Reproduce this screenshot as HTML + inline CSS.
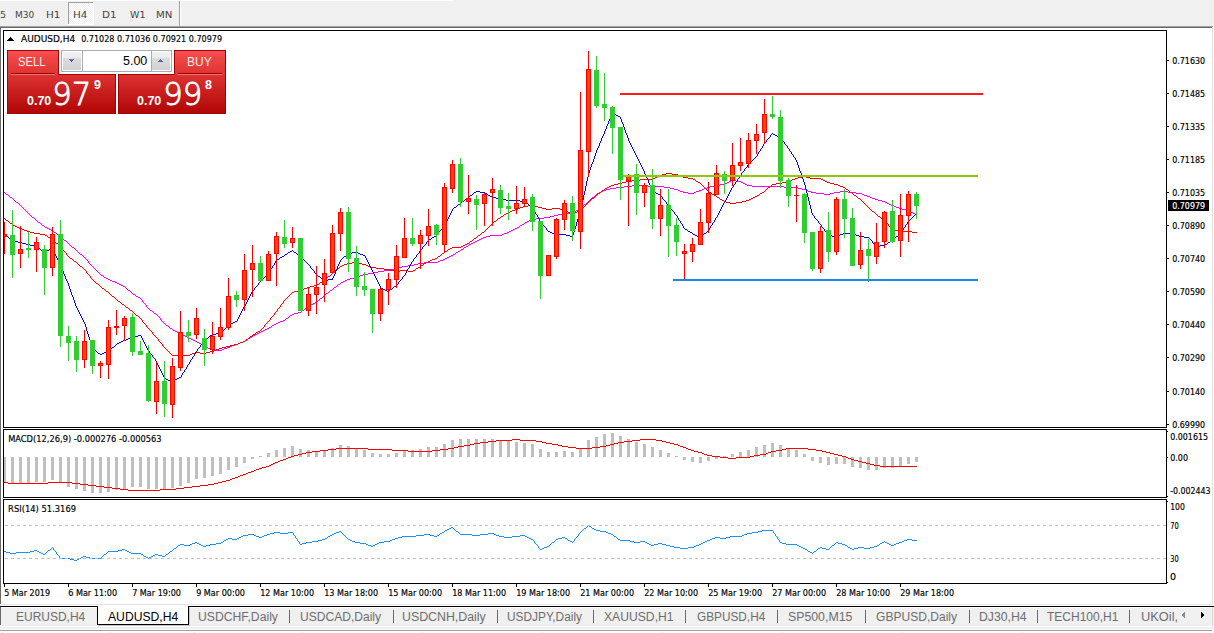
<!DOCTYPE html>
<html><head><meta charset="utf-8"><title>AUDUSD,H4</title>
<style>
html,body{margin:0;padding:0;width:1214px;height:633px;overflow:hidden;background:#f0f0f0}
svg{display:block}
text{white-space:pre}
</style></head><body>
<svg width="1214" height="633" viewBox="0 0 1214 633" shape-rendering="crispEdges">
<defs>
<clipPath id="cmain"><rect x="4" y="31" width="1162" height="396"/></clipPath>
<clipPath id="cmacd"><rect x="4" y="430" width="1162" height="67"/></clipPath>
<clipPath id="crsi"><rect x="4" y="500" width="1162" height="83"/></clipPath>
<pattern id="dith" width="2" height="2" patternUnits="userSpaceOnUse"><rect width="2" height="2" fill="#f0f0f0"/><rect width="1" height="1" fill="#fff"/><rect x="1" y="1" width="1" height="1" fill="#fff"/></pattern>
<linearGradient id="gtop" x1="0" y1="0" x2="0" y2="1"><stop offset="0" stop-color="#f64e4e"/><stop offset="1" stop-color="#de3434"/></linearGradient>
<linearGradient id="gbot" x1="0" y1="0" x2="0" y2="1"><stop offset="0" stop-color="#dc3232"/><stop offset="1" stop-color="#b00606"/></linearGradient>
<linearGradient id="gbtn1" x1="0" y1="0" x2="0" y2="1"><stop offset="0" stop-color="#f2f2f2"/><stop offset="1" stop-color="#ebebeb"/></linearGradient>
<linearGradient id="gbtn" x1="0" y1="0" x2="0" y2="1"><stop offset="0" stop-color="#dcdcdc"/><stop offset="1" stop-color="#d2d2d2"/></linearGradient>
</defs>
<rect x="0" y="0" width="1214" height="633" fill="#f0f0f0"/>
<rect x="0" y="0" width="453" height="1" fill="#ffffff"/>
<rect x="69" y="3" width="24" height="21" fill="url(#dith)"/>
<rect x="68" y="2" width="25" height="1" fill="#a0a0a0"/>
<rect x="68" y="2" width="1" height="22" fill="#a0a0a0"/>
<rect x="93" y="2" width="1" height="23" fill="#ffffff"/>
<rect x="68" y="24" width="26" height="1" fill="#ffffff"/>
<rect x="179" y="1" width="1" height="25" fill="#a0a0a0"/>
<rect x="180" y="1" width="1" height="25" fill="#ffffff"/>
<rect x="0" y="26" width="1213" height="1" fill="#a0a0a0"/>
<rect x="0" y="27" width="1212" height="1" fill="#696969"/>
<rect x="1" y="28" width="1211" height="576" fill="#ffffff"/>
<rect x="0" y="27" width="1" height="577" fill="#696969"/>
<rect x="1212" y="27" width="1" height="578" fill="#e3e3e3"/>
<rect x="1213" y="26" width="1" height="580" fill="#ffffff"/>
<rect x="1" y="604" width="1212" height="1" fill="#e3e3e3"/>
<rect x="0" y="605" width="1214" height="1" fill="#ffffff"/>
<rect x="3" y="30" width="1164" height="1" fill="#000"/>
<rect x="3" y="427" width="1164" height="1" fill="#000"/>
<rect x="3" y="30" width="1" height="398" fill="#000"/>
<rect x="1166" y="30" width="1" height="398" fill="#000"/>
<rect x="3" y="429" width="1164" height="1" fill="#000"/>
<rect x="3" y="497" width="1164" height="1" fill="#000"/>
<rect x="3" y="429" width="1" height="69" fill="#000"/>
<rect x="1166" y="429" width="1" height="69" fill="#000"/>
<rect x="3" y="499" width="1164" height="1" fill="#000"/>
<rect x="3" y="583" width="1164" height="1" fill="#000"/>
<rect x="3" y="499" width="1" height="85" fill="#000"/>
<rect x="1166" y="499" width="1" height="85" fill="#000"/>
<rect x="1167" y="60" width="2" height="1" fill="#000"/>
<rect x="1167" y="93" width="2" height="1" fill="#000"/>
<rect x="1167" y="126" width="2" height="1" fill="#000"/>
<rect x="1167" y="159" width="2" height="1" fill="#000"/>
<rect x="1167" y="192" width="2" height="1" fill="#000"/>
<rect x="1167" y="225" width="2" height="1" fill="#000"/>
<rect x="1167" y="258" width="2" height="1" fill="#000"/>
<rect x="1167" y="291" width="2" height="1" fill="#000"/>
<rect x="1167" y="324" width="2" height="1" fill="#000"/>
<rect x="1167" y="357" width="2" height="1" fill="#000"/>
<rect x="1167" y="391" width="2" height="1" fill="#000"/>
<rect x="1167" y="424" width="2" height="1" fill="#000"/>
<rect x="1167" y="431" width="1" height="1" fill="#000"/>
<rect x="1167" y="457" width="1" height="1" fill="#000"/>
<rect x="1167" y="496" width="1" height="1" fill="#000"/>
<rect x="1167" y="501" width="1" height="1" fill="#000"/>
<rect x="1167" y="582" width="1" height="1" fill="#000"/>
<rect x="4" y="584" width="1" height="3" fill="#000"/>
<rect x="68" y="584" width="1" height="3" fill="#000"/>
<rect x="132" y="584" width="1" height="3" fill="#000"/>
<rect x="196" y="584" width="1" height="3" fill="#000"/>
<rect x="260" y="584" width="1" height="3" fill="#000"/>
<rect x="324" y="584" width="1" height="3" fill="#000"/>
<rect x="388" y="584" width="1" height="3" fill="#000"/>
<rect x="452" y="584" width="1" height="3" fill="#000"/>
<rect x="516" y="584" width="1" height="3" fill="#000"/>
<rect x="580" y="584" width="1" height="3" fill="#000"/>
<rect x="644" y="584" width="1" height="3" fill="#000"/>
<rect x="708" y="584" width="1" height="3" fill="#000"/>
<rect x="772" y="584" width="1" height="3" fill="#000"/>
<rect x="836" y="584" width="1" height="3" fill="#000"/>
<rect x="900" y="584" width="1" height="3" fill="#000"/>
<path d="M731 180h5v1h-5zM729 181h2v1h-2zM736 181h5v1h-5zM727 182h2v1h-2zM741 182h2v1h-2zM725 183h2v1h-2zM743 183h2v1h-2zM720 184h5v1h-5zM745 184h2v1h-2zM632 185h16v1h-16zM714 185h6v1h-6zM747 185h5v1h-5zM624 186h8v1h-8zM648 186h16v1h-16zM710 186h4v1h-4zM752 186h32v1h-32zM616 187h8v1h-8zM664 187h6v1h-6zM707 187h3v1h-3zM784 187h14v1h-14zM610 188h6v1h-6zM670 188h4v1h-4zM704 188h3v1h-3zM798 188h4v1h-4zM606 189h4v1h-4zM674 189h4v1h-4zM702 189h2v1h-2zM802 189h4v1h-4zM603 190h3v1h-3zM678 190h2v1h-2zM699 190h3v1h-3zM806 190h2v1h-2zM601 191h2v1h-2zM680 191h3v1h-3zM696 191h3v1h-3zM808 191h3v1h-3zM840 191h8v1h-8zM4 192h1v1h-1zM599 192h2v1h-2zM683 192h5v1h-5zM694 192h2v1h-2zM811 192h5v1h-5zM834 192h6v1h-6zM848 192h8v1h-8zM5 193h1v1h-1zM597 193h2v1h-2zM688 193h6v1h-6zM816 193h8v1h-8zM830 193h4v1h-4zM856 193h6v1h-6zM6 194h2v1h-2zM596 194h1v1h-1zM824 194h6v1h-6zM862 194h2v1h-2zM8 195h1v1h-1zM595 195h1v1h-1zM864 195h3v1h-3zM9 196h1v1h-1zM594 196h1v1h-1zM867 196h3v1h-3zM10 197h2v1h-2zM592 197h2v1h-2zM870 197h2v1h-2zM12 198h1v1h-1zM591 198h1v1h-1zM872 198h3v1h-3zM13 199h1v1h-1zM590 199h1v1h-1zM875 199h3v1h-3zM14 200h1v1h-1zM589 200h1v1h-1zM878 200h4v1h-4zM15 201h1v1h-1zM588 201h1v1h-1zM882 201h3v1h-3zM16 202h2v1h-2zM587 202h1v1h-1zM885 202h2v1h-2zM18 203h1v1h-1zM586 203h1v1h-1zM887 203h2v1h-2zM19 204h1v1h-1zM584 204h2v1h-2zM889 204h2v1h-2zM20 205h1v1h-1zM583 205h1v1h-1zM891 205h3v1h-3zM21 206h1v1h-1zM582 206h1v1h-1zM894 206h2v1h-2zM22 207h1v1h-1zM581 207h1v1h-1zM896 207h3v1h-3zM23 208h1v1h-1zM580 208h1v1h-1zM899 208h3v1h-3zM24 209h1v1h-1zM578 209h2v1h-2zM902 209h4v1h-4zM25 210h1v1h-1zM576 210h2v1h-2zM906 210h3v1h-3zM26 211h1v1h-1zM575 211h1v1h-1zM909 211h2v1h-2zM27 212h1v1h-1zM573 212h2v1h-2zM911 212h2v1h-2zM28 213h1v1h-1zM562 213h11v1h-11zM913 213h2v1h-2zM29 214h1v1h-1zM558 214h4v1h-4zM915 214h2v1h-2zM30 215h1v1h-1zM554 215h4v1h-4zM31 216h1v1h-1zM550 216h4v1h-4zM32 217h2v1h-2zM544 217h6v1h-6zM34 218h1v1h-1zM536 218h8v1h-8zM35 219h1v1h-1zM531 219h5v1h-5zM36 220h1v1h-1zM529 220h2v1h-2zM37 221h1v1h-1zM527 221h2v1h-2zM38 222h2v1h-2zM525 222h2v1h-2zM40 223h1v1h-1zM524 223h1v1h-1zM41 224h1v1h-1zM522 224h2v1h-2zM42 225h2v1h-2zM520 225h2v1h-2zM44 226h1v1h-1zM519 226h1v1h-1zM45 227h2v1h-2zM517 227h2v1h-2zM47 228h2v1h-2zM515 228h2v1h-2zM49 229h2v1h-2zM513 229h2v1h-2zM51 230h2v1h-2zM511 230h2v1h-2zM53 231h1v1h-1zM509 231h2v1h-2zM54 232h2v1h-2zM507 232h2v1h-2zM56 233h1v1h-1zM504 233h3v1h-3zM57 234h1v1h-1zM502 234h2v1h-2zM58 235h2v1h-2zM490 235h12v1h-12zM60 236h1v1h-1zM486 236h4v1h-4zM61 237h1v1h-1zM483 237h3v1h-3zM62 238h1v1h-1zM481 238h2v1h-2zM63 239h1v1h-1zM479 239h2v1h-2zM64 240h2v1h-2zM477 240h2v1h-2zM66 241h1v1h-1zM475 241h2v1h-2zM67 242h1v1h-1zM473 242h2v1h-2zM68 243h1v1h-1zM471 243h2v1h-2zM69 244h1v1h-1zM469 244h2v1h-2zM70 245h1v1h-1zM468 245h1v1h-1zM71 246h1v1h-1zM466 246h2v1h-2zM72 247h2v1h-2zM464 247h2v1h-2zM74 248h1v1h-1zM463 248h1v1h-1zM75 249h1v1h-1zM461 249h2v1h-2zM76 250h1v1h-1zM460 250h1v1h-1zM77 251h1v1h-1zM458 251h2v1h-2zM78 252h1v1h-1zM456 252h2v1h-2zM79 253h1v1h-1zM455 253h1v1h-1zM80 254h2v1h-2zM453 254h2v1h-2zM82 255h1v1h-1zM451 255h2v1h-2zM83 256h1v1h-1zM449 256h2v1h-2zM84 257h1v1h-1zM447 257h2v1h-2zM85 258h1v1h-1zM445 258h2v1h-2zM86 259h1v1h-1zM443 259h2v1h-2zM87 260h1v1h-1zM440 260h3v1h-3zM88 261h1v1h-1zM438 261h2v1h-2zM88 262h1v1h-1zM424 262h14v1h-14zM89 263h1v1h-1zM418 263h6v1h-6zM90 264h1v1h-1zM414 264h4v1h-4zM91 265h1v1h-1zM408 265h6v1h-6zM92 266h1v1h-1zM402 266h6v1h-6zM93 267h1v1h-1zM398 267h4v1h-4zM94 268h1v1h-1zM394 268h4v1h-4zM95 269h1v1h-1zM390 269h4v1h-4zM96 270h1v1h-1zM384 270h6v1h-6zM97 271h1v1h-1zM378 271h6v1h-6zM98 272h1v1h-1zM374 272h4v1h-4zM99 273h1v1h-1zM368 273h6v1h-6zM100 274h1v1h-1zM363 274h5v1h-5zM101 275h2v1h-2zM360 275h3v1h-3zM103 276h1v1h-1zM358 276h2v1h-2zM104 277h2v1h-2zM354 277h4v1h-4zM106 278h2v1h-2zM350 278h4v1h-4zM108 279h2v1h-2zM347 279h3v1h-3zM110 280h2v1h-2zM345 280h2v1h-2zM112 281h3v1h-3zM343 281h2v1h-2zM115 282h2v1h-2zM341 282h2v1h-2zM117 283h2v1h-2zM340 283h1v1h-1zM119 284h2v1h-2zM338 284h2v1h-2zM121 285h2v1h-2zM337 285h1v1h-1zM123 286h2v1h-2zM336 286h1v1h-1zM125 287h1v1h-1zM334 287h2v1h-2zM126 288h1v1h-1zM333 288h1v1h-1zM127 289h1v1h-1zM332 289h1v1h-1zM128 290h2v1h-2zM330 290h2v1h-2zM130 291h1v1h-1zM329 291h1v1h-1zM131 292h1v1h-1zM328 292h1v1h-1zM132 293h1v1h-1zM326 293h2v1h-2zM133 294h2v1h-2zM325 294h1v1h-1zM135 295h1v1h-1zM324 295h1v1h-1zM136 296h2v1h-2zM323 296h1v1h-1zM138 297h2v1h-2zM322 297h1v1h-1zM140 298h1v1h-1zM320 298h2v1h-2zM141 299h1v1h-1zM319 299h1v1h-1zM142 300h1v1h-1zM318 300h1v1h-1zM142 301h1v1h-1zM317 301h1v1h-1zM143 302h1v1h-1zM315 302h2v1h-2zM144 303h1v1h-1zM313 303h2v1h-2zM145 304h1v1h-1zM311 304h2v1h-2zM146 305h1v1h-1zM309 305h2v1h-2zM146 306h1v1h-1zM308 306h1v1h-1zM147 307h1v1h-1zM306 307h2v1h-2zM148 308h1v1h-1zM305 308h1v1h-1zM149 309h1v1h-1zM304 309h1v1h-1zM150 310h2v1h-2zM302 310h2v1h-2zM152 311h1v1h-1zM301 311h1v1h-1zM153 312h1v1h-1zM298 312h3v1h-3zM154 313h2v1h-2zM294 313h4v1h-4zM156 314h1v1h-1zM292 314h2v1h-2zM157 315h1v1h-1zM290 315h2v1h-2zM158 316h1v1h-1zM289 316h1v1h-1zM159 317h1v1h-1zM288 317h1v1h-1zM160 318h1v1h-1zM286 318h2v1h-2zM160 319h1v1h-1zM285 319h1v1h-1zM161 320h1v1h-1zM283 320h2v1h-2zM162 321h1v1h-1zM280 321h3v1h-3zM163 322h1v1h-1zM278 322h2v1h-2zM164 323h1v1h-1zM276 323h2v1h-2zM165 324h1v1h-1zM274 324h2v1h-2zM166 325h2v1h-2zM272 325h2v1h-2zM168 326h1v1h-1zM271 326h1v1h-1zM169 327h1v1h-1zM269 327h2v1h-2zM170 328h2v1h-2zM267 328h2v1h-2zM172 329h1v1h-1zM265 329h2v1h-2zM173 330h2v1h-2zM263 330h2v1h-2zM175 331h2v1h-2zM261 331h2v1h-2zM177 332h2v1h-2zM259 332h2v1h-2zM179 333h2v1h-2zM257 333h2v1h-2zM181 334h2v1h-2zM255 334h2v1h-2zM183 335h2v1h-2zM253 335h2v1h-2zM185 336h2v1h-2zM252 336h1v1h-1zM187 337h2v1h-2zM250 337h2v1h-2zM189 338h2v1h-2zM248 338h2v1h-2zM191 339h2v1h-2zM247 339h1v1h-1zM193 340h2v1h-2zM245 340h2v1h-2zM195 341h2v1h-2zM243 341h2v1h-2zM197 342h2v1h-2zM240 342h3v1h-3zM199 343h2v1h-2zM238 343h2v1h-2zM201 344h2v1h-2zM235 344h3v1h-3zM203 345h2v1h-2zM232 345h3v1h-3zM205 346h2v1h-2zM230 346h2v1h-2zM207 347h1v1h-1zM227 347h3v1h-3zM208 348h2v1h-2zM224 348h3v1h-3zM210 349h2v1h-2zM222 349h2v1h-2zM212 350h10v1h-10z" fill="#ff00ff"/>
<path d="M666 173h6v1h-6zM662 174h4v1h-4zM672 174h6v1h-6zM659 175h3v1h-3zM678 175h2v1h-2zM657 176h2v1h-2zM680 176h3v1h-3zM802 176h4v1h-4zM655 177h2v1h-2zM683 177h5v1h-5zM798 177h4v1h-4zM806 177h4v1h-4zM653 178h2v1h-2zM688 178h5v1h-5zM795 178h3v1h-3zM810 178h11v1h-11zM640 179h13v1h-13zM693 179h2v1h-2zM792 179h3v1h-3zM821 179h2v1h-2zM632 180h8v1h-8zM695 180h1v1h-1zM790 180h2v1h-2zM823 180h2v1h-2zM626 181h6v1h-6zM696 181h2v1h-2zM786 181h4v1h-4zM825 181h2v1h-2zM622 182h4v1h-4zM698 182h2v1h-2zM782 182h4v1h-4zM827 182h3v1h-3zM618 183h4v1h-4zM700 183h1v1h-1zM776 183h6v1h-6zM830 183h4v1h-4zM614 184h4v1h-4zM701 184h1v1h-1zM772 184h4v1h-4zM834 184h4v1h-4zM611 185h3v1h-3zM702 185h1v1h-1zM771 185h1v1h-1zM838 185h2v1h-2zM609 186h2v1h-2zM703 186h1v1h-1zM770 186h1v1h-1zM840 186h3v1h-3zM607 187h2v1h-2zM704 187h1v1h-1zM768 187h2v1h-2zM843 187h2v1h-2zM605 188h2v1h-2zM705 188h1v1h-1zM767 188h1v1h-1zM845 188h1v1h-1zM604 189h1v1h-1zM706 189h1v1h-1zM766 189h1v1h-1zM846 189h2v1h-2zM602 190h2v1h-2zM707 190h1v1h-1zM765 190h1v1h-1zM848 190h1v1h-1zM601 191h1v1h-1zM708 191h1v1h-1zM764 191h1v1h-1zM849 191h1v1h-1zM600 192h1v1h-1zM709 192h2v1h-2zM762 192h2v1h-2zM850 192h2v1h-2zM598 193h2v1h-2zM711 193h1v1h-1zM760 193h2v1h-2zM852 193h1v1h-1zM597 194h1v1h-1zM712 194h2v1h-2zM759 194h1v1h-1zM853 194h1v1h-1zM596 195h1v1h-1zM714 195h2v1h-2zM757 195h2v1h-2zM854 195h2v1h-2zM595 196h1v1h-1zM716 196h1v1h-1zM755 196h2v1h-2zM856 196h1v1h-1zM594 197h1v1h-1zM717 197h2v1h-2zM753 197h2v1h-2zM857 197h1v1h-1zM592 198h2v1h-2zM719 198h1v1h-1zM751 198h2v1h-2zM858 198h2v1h-2zM591 199h1v1h-1zM720 199h2v1h-2zM749 199h2v1h-2zM860 199h1v1h-1zM590 200h1v1h-1zM722 200h2v1h-2zM746 200h3v1h-3zM861 200h1v1h-1zM589 201h1v1h-1zM724 201h2v1h-2zM742 201h4v1h-4zM862 201h1v1h-1zM588 202h1v1h-1zM726 202h4v1h-4zM736 202h6v1h-6zM863 202h1v1h-1zM587 203h1v1h-1zM730 203h6v1h-6zM864 203h1v1h-1zM586 204h1v1h-1zM865 204h1v1h-1zM528 205h6v1h-6zM585 205h1v1h-1zM866 205h1v1h-1zM523 206h5v1h-5zM534 206h4v1h-4zM584 206h1v1h-1zM867 206h1v1h-1zM520 207h3v1h-3zM538 207h4v1h-4zM583 207h1v1h-1zM868 207h1v1h-1zM518 208h2v1h-2zM542 208h4v1h-4zM552 208h8v1h-8zM582 208h1v1h-1zM869 208h1v1h-1zM515 209h3v1h-3zM546 209h6v1h-6zM560 209h5v1h-5zM581 209h1v1h-1zM870 209h1v1h-1zM512 210h3v1h-3zM565 210h2v1h-2zM579 210h2v1h-2zM871 210h1v1h-1zM510 211h2v1h-2zM567 211h1v1h-1zM577 211h2v1h-2zM872 211h2v1h-2zM508 212h2v1h-2zM568 212h2v1h-2zM575 212h2v1h-2zM874 212h1v1h-1zM506 213h2v1h-2zM570 213h2v1h-2zM573 213h2v1h-2zM875 213h1v1h-1zM504 214h2v1h-2zM572 214h1v1h-1zM876 214h1v1h-1zM503 215h1v1h-1zM877 215h1v1h-1zM501 216h2v1h-2zM878 216h2v1h-2zM500 217h1v1h-1zM880 217h1v1h-1zM4 218h1v1h-1zM498 218h2v1h-2zM881 218h1v1h-1zM5 219h1v1h-1zM497 219h1v1h-1zM882 219h2v1h-2zM6 220h2v1h-2zM496 220h1v1h-1zM884 220h1v1h-1zM8 221h1v1h-1zM494 221h2v1h-2zM885 221h1v1h-1zM9 222h1v1h-1zM493 222h1v1h-1zM886 222h1v1h-1zM10 223h2v1h-2zM492 223h1v1h-1zM887 223h1v1h-1zM12 224h1v1h-1zM491 224h1v1h-1zM888 224h1v1h-1zM13 225h2v1h-2zM490 225h1v1h-1zM888 225h1v1h-1zM15 226h2v1h-2zM489 226h1v1h-1zM889 226h1v1h-1zM17 227h2v1h-2zM488 227h1v1h-1zM890 227h1v1h-1zM19 228h3v1h-3zM487 228h1v1h-1zM891 228h1v1h-1zM22 229h2v1h-2zM486 229h1v1h-1zM892 229h2v1h-2zM24 230h3v1h-3zM485 230h1v1h-1zM894 230h4v1h-4zM27 231h3v1h-3zM484 231h1v1h-1zM898 231h14v1h-14zM30 232h4v1h-4zM482 232h2v1h-2zM912 232h5v1h-5zM34 233h6v1h-6zM481 233h1v1h-1zM40 234h5v1h-5zM480 234h1v1h-1zM45 235h2v1h-2zM478 235h2v1h-2zM47 236h1v1h-1zM477 236h1v1h-1zM48 237h2v1h-2zM476 237h1v1h-1zM50 238h2v1h-2zM474 238h2v1h-2zM52 239h1v1h-1zM473 239h1v1h-1zM53 240h1v1h-1zM472 240h1v1h-1zM54 241h1v1h-1zM470 241h2v1h-2zM55 242h1v1h-1zM469 242h1v1h-1zM56 243h2v1h-2zM467 243h2v1h-2zM58 244h1v1h-1zM465 244h2v1h-2zM59 245h1v1h-1zM463 245h2v1h-2zM60 246h1v1h-1zM461 246h2v1h-2zM61 247h1v1h-1zM452 247h9v1h-9zM62 248h1v1h-1zM450 248h2v1h-2zM62 249h1v1h-1zM448 249h2v1h-2zM63 250h1v1h-1zM447 250h1v1h-1zM64 251h1v1h-1zM445 251h2v1h-2zM65 252h1v1h-1zM444 252h1v1h-1zM66 253h1v1h-1zM442 253h2v1h-2zM66 254h1v1h-1zM441 254h1v1h-1zM67 255h1v1h-1zM440 255h1v1h-1zM68 256h1v1h-1zM438 256h2v1h-2zM69 257h1v1h-1zM437 257h1v1h-1zM70 258h2v1h-2zM435 258h2v1h-2zM72 259h1v1h-1zM432 259h3v1h-3zM73 260h1v1h-1zM430 260h2v1h-2zM74 261h2v1h-2zM428 261h2v1h-2zM76 262h1v1h-1zM352 262h6v1h-6zM426 262h2v1h-2zM77 263h1v1h-1zM347 263h5v1h-5zM358 263h4v1h-4zM424 263h2v1h-2zM78 264h1v1h-1zM344 264h3v1h-3zM362 264h4v1h-4zM423 264h1v1h-1zM79 265h1v1h-1zM342 265h2v1h-2zM366 265h2v1h-2zM421 265h2v1h-2zM80 266h2v1h-2zM340 266h2v1h-2zM368 266h3v1h-3zM420 266h1v1h-1zM82 267h1v1h-1zM339 267h1v1h-1zM371 267h5v1h-5zM418 267h2v1h-2zM83 268h1v1h-1zM338 268h1v1h-1zM376 268h8v1h-8zM416 268h2v1h-2zM84 269h1v1h-1zM336 269h2v1h-2zM384 269h6v1h-6zM415 269h1v1h-1zM85 270h1v1h-1zM335 270h1v1h-1zM390 270h4v1h-4zM400 270h8v1h-8zM413 270h2v1h-2zM86 271h1v1h-1zM334 271h1v1h-1zM394 271h6v1h-6zM408 271h5v1h-5zM86 272h1v1h-1zM333 272h1v1h-1zM87 273h1v1h-1zM332 273h1v1h-1zM88 274h1v1h-1zM331 274h1v1h-1zM89 275h1v1h-1zM330 275h1v1h-1zM90 276h1v1h-1zM328 276h2v1h-2zM90 277h1v1h-1zM327 277h1v1h-1zM91 278h1v1h-1zM326 278h1v1h-1zM92 279h1v1h-1zM325 279h1v1h-1zM93 280h1v1h-1zM324 280h1v1h-1zM94 281h1v1h-1zM322 281h2v1h-2zM95 282h1v1h-1zM320 282h2v1h-2zM96 283h2v1h-2zM319 283h1v1h-1zM98 284h1v1h-1zM317 284h2v1h-2zM99 285h1v1h-1zM314 285h3v1h-3zM100 286h1v1h-1zM310 286h4v1h-4zM101 287h1v1h-1zM307 287h3v1h-3zM102 288h2v1h-2zM304 288h3v1h-3zM104 289h1v1h-1zM302 289h2v1h-2zM105 290h1v1h-1zM298 290h4v1h-4zM106 291h2v1h-2zM294 291h4v1h-4zM108 292h1v1h-1zM292 292h2v1h-2zM109 293h1v1h-1zM291 293h1v1h-1zM110 294h1v1h-1zM290 294h1v1h-1zM111 295h1v1h-1zM289 295h1v1h-1zM112 296h2v1h-2zM288 296h1v1h-1zM114 297h1v1h-1zM287 297h1v1h-1zM115 298h1v1h-1zM286 298h1v1h-1zM116 299h1v1h-1zM285 299h1v1h-1zM117 300h1v1h-1zM284 300h1v1h-1zM118 301h2v1h-2zM283 301h1v1h-1zM120 302h1v1h-1zM283 302h1v1h-1zM121 303h1v1h-1zM282 303h1v1h-1zM122 304h2v1h-2zM281 304h1v1h-1zM124 305h1v1h-1zM280 305h1v1h-1zM125 306h1v1h-1zM280 306h1v1h-1zM126 307h2v1h-2zM279 307h1v1h-1zM128 308h1v1h-1zM278 308h1v1h-1zM129 309h1v1h-1zM277 309h1v1h-1zM130 310h2v1h-2zM277 310h1v1h-1zM132 311h1v1h-1zM276 311h1v1h-1zM133 312h1v1h-1zM275 312h1v1h-1zM134 313h1v1h-1zM274 313h1v1h-1zM135 314h1v1h-1zM274 314h1v1h-1zM136 315h2v1h-2zM273 315h1v1h-1zM138 316h1v1h-1zM272 316h1v1h-1zM139 317h1v1h-1zM271 317h1v1h-1zM140 318h1v1h-1zM270 318h1v1h-1zM141 319h1v1h-1zM270 319h1v1h-1zM142 320h1v1h-1zM269 320h1v1h-1zM142 321h1v1h-1zM268 321h1v1h-1zM143 322h1v1h-1zM267 322h1v1h-1zM144 323h1v1h-1zM266 323h1v1h-1zM145 324h1v1h-1zM265 324h1v1h-1zM146 325h1v1h-1zM264 325h1v1h-1zM146 326h1v1h-1zM264 326h1v1h-1zM147 327h1v1h-1zM263 327h1v1h-1zM148 328h1v1h-1zM262 328h1v1h-1zM149 329h1v1h-1zM261 329h1v1h-1zM150 330h1v1h-1zM260 330h1v1h-1zM151 331h1v1h-1zM258 331h2v1h-2zM152 332h1v1h-1zM256 332h2v1h-2zM152 333h1v1h-1zM255 333h1v1h-1zM153 334h1v1h-1zM253 334h2v1h-2zM154 335h1v1h-1zM252 335h1v1h-1zM155 336h1v1h-1zM250 336h2v1h-2zM156 337h1v1h-1zM249 337h1v1h-1zM157 338h1v1h-1zM248 338h1v1h-1zM158 339h1v1h-1zM246 339h2v1h-2zM158 340h1v1h-1zM245 340h1v1h-1zM159 341h1v1h-1zM243 341h2v1h-2zM160 342h1v1h-1zM240 342h3v1h-3zM161 343h1v1h-1zM238 343h2v1h-2zM162 344h1v1h-1zM234 344h4v1h-4zM162 345h1v1h-1zM230 345h4v1h-4zM163 346h1v1h-1zM226 346h4v1h-4zM164 347h1v1h-1zM222 347h4v1h-4zM165 348h1v1h-1zM219 348h3v1h-3zM166 349h1v1h-1zM216 349h3v1h-3zM167 350h1v1h-1zM214 350h2v1h-2zM168 351h1v1h-1zM210 351h4v1h-4zM169 352h1v1h-1zM195 352h5v1h-5zM206 352h4v1h-4zM170 353h1v1h-1zM192 353h3v1h-3zM200 353h6v1h-6zM171 354h1v1h-1zM190 354h2v1h-2zM172 355h18v1h-18z" fill="#ff0000"/>
<path d="M612 112h1v1h-1zM612 113h3v1h-3zM611 114h1v1h-1zM615 114h1v1h-1zM611 115h1v1h-1zM616 115h2v1h-2zM610 116h1v1h-1zM618 116h2v1h-2zM610 117h1v1h-1zM620 117h1v1h-1zM610 118h1v1h-1zM620 118h1v1h-1zM609 119h1v1h-1zM621 119h1v1h-1zM609 120h1v1h-1zM621 120h1v1h-1zM608 121h1v1h-1zM621 121h1v1h-1zM608 122h1v1h-1zM622 122h1v1h-1zM608 123h1v1h-1zM622 123h1v1h-1zM607 124h1v1h-1zM623 124h1v1h-1zM607 125h1v1h-1zM623 125h1v1h-1zM606 126h1v1h-1zM623 126h1v1h-1zM606 127h1v1h-1zM624 127h1v1h-1zM606 128h1v1h-1zM624 128h1v1h-1zM605 129h1v1h-1zM624 129h1v1h-1zM605 130h1v1h-1zM625 130h1v1h-1zM604 131h1v1h-1zM625 131h1v1h-1zM604 132h1v1h-1zM625 132h1v1h-1zM604 133h1v1h-1zM626 133h1v1h-1zM772 133h1v1h-1zM603 134h1v1h-1zM626 134h1v1h-1zM771 134h1v1h-1zM773 134h2v1h-2zM603 135h1v1h-1zM627 135h1v1h-1zM770 135h1v1h-1zM775 135h2v1h-2zM602 136h1v1h-1zM627 136h1v1h-1zM770 136h1v1h-1zM777 136h2v1h-2zM602 137h1v1h-1zM627 137h1v1h-1zM769 137h1v1h-1zM779 137h2v1h-2zM601 138h1v1h-1zM628 138h1v1h-1zM768 138h1v1h-1zM781 138h1v1h-1zM601 139h1v1h-1zM628 139h1v1h-1zM767 139h1v1h-1zM781 139h1v1h-1zM601 140h1v1h-1zM628 140h1v1h-1zM766 140h1v1h-1zM782 140h1v1h-1zM600 141h1v1h-1zM629 141h1v1h-1zM766 141h1v1h-1zM783 141h1v1h-1zM600 142h1v1h-1zM629 142h1v1h-1zM765 142h1v1h-1zM784 142h1v1h-1zM599 143h1v1h-1zM630 143h1v1h-1zM764 143h1v1h-1zM784 143h1v1h-1zM599 144h1v1h-1zM630 144h1v1h-1zM763 144h1v1h-1zM785 144h1v1h-1zM599 145h1v1h-1zM631 145h1v1h-1zM763 145h1v1h-1zM786 145h1v1h-1zM598 146h1v1h-1zM631 146h1v1h-1zM762 146h1v1h-1zM787 146h1v1h-1zM598 147h1v1h-1zM632 147h1v1h-1zM762 147h1v1h-1zM787 147h1v1h-1zM597 148h1v1h-1zM632 148h1v1h-1zM761 148h1v1h-1zM788 148h1v1h-1zM597 149h1v1h-1zM633 149h1v1h-1zM760 149h1v1h-1zM789 149h1v1h-1zM596 150h1v1h-1zM633 150h1v1h-1zM760 150h1v1h-1zM789 150h1v1h-1zM596 151h1v1h-1zM634 151h1v1h-1zM759 151h1v1h-1zM790 151h1v1h-1zM596 152h1v1h-1zM634 152h1v1h-1zM758 152h1v1h-1zM791 152h1v1h-1zM595 153h1v1h-1zM635 153h1v1h-1zM758 153h1v1h-1zM791 153h1v1h-1zM595 154h1v1h-1zM635 154h1v1h-1zM757 154h1v1h-1zM792 154h1v1h-1zM595 155h1v1h-1zM636 155h1v1h-1zM757 155h1v1h-1zM793 155h1v1h-1zM594 156h1v1h-1zM636 156h1v1h-1zM756 156h1v1h-1zM793 156h1v1h-1zM594 157h1v1h-1zM637 157h1v1h-1zM755 157h1v1h-1zM794 157h1v1h-1zM594 158h1v1h-1zM637 158h1v1h-1zM754 158h1v1h-1zM795 158h1v1h-1zM593 159h1v1h-1zM638 159h1v1h-1zM753 159h1v1h-1zM795 159h1v1h-1zM593 160h1v1h-1zM638 160h1v1h-1zM752 160h1v1h-1zM796 160h1v1h-1zM593 161h1v1h-1zM639 161h1v1h-1zM751 161h1v1h-1zM796 161h1v1h-1zM592 162h1v1h-1zM639 162h1v1h-1zM750 162h1v1h-1zM797 162h1v1h-1zM592 163h1v1h-1zM640 163h1v1h-1zM749 163h1v1h-1zM797 163h1v1h-1zM591 164h1v1h-1zM640 164h1v1h-1zM748 164h1v1h-1zM797 164h1v1h-1zM591 165h1v1h-1zM641 165h1v1h-1zM747 165h1v1h-1zM798 165h1v1h-1zM591 166h1v1h-1zM641 166h1v1h-1zM747 166h1v1h-1zM798 166h1v1h-1zM590 167h1v1h-1zM642 167h1v1h-1zM746 167h1v1h-1zM798 167h1v1h-1zM590 168h1v1h-1zM642 168h1v1h-1zM745 168h1v1h-1zM799 168h1v1h-1zM590 169h1v1h-1zM643 169h1v1h-1zM744 169h1v1h-1zM799 169h1v1h-1zM589 170h1v1h-1zM643 170h1v1h-1zM744 170h1v1h-1zM799 170h1v1h-1zM589 171h1v1h-1zM644 171h1v1h-1zM743 171h1v1h-1zM800 171h1v1h-1zM589 172h1v1h-1zM644 172h1v1h-1zM742 172h1v1h-1zM800 172h1v1h-1zM588 173h1v1h-1zM644 173h1v1h-1zM741 173h1v1h-1zM801 173h1v1h-1zM588 174h1v1h-1zM645 174h1v1h-1zM741 174h1v1h-1zM801 174h1v1h-1zM588 175h1v1h-1zM645 175h1v1h-1zM740 175h1v1h-1zM801 175h1v1h-1zM588 176h1v1h-1zM646 176h1v1h-1zM739 176h1v1h-1zM802 176h1v1h-1zM587 177h1v1h-1zM646 177h1v1h-1zM739 177h1v1h-1zM802 177h1v1h-1zM587 178h1v1h-1zM647 178h1v1h-1zM738 178h1v1h-1zM802 178h1v1h-1zM587 179h1v1h-1zM647 179h1v1h-1zM737 179h1v1h-1zM803 179h1v1h-1zM587 180h1v1h-1zM648 180h1v1h-1zM737 180h1v1h-1zM803 180h1v1h-1zM586 181h1v1h-1zM648 181h1v1h-1zM736 181h1v1h-1zM803 181h1v1h-1zM586 182h1v1h-1zM648 182h1v1h-1zM735 182h1v1h-1zM804 182h1v1h-1zM586 183h1v1h-1zM649 183h1v1h-1zM735 183h1v1h-1zM804 183h1v1h-1zM586 184h1v1h-1zM649 184h1v1h-1zM734 184h1v1h-1zM804 184h1v1h-1zM586 185h1v1h-1zM650 185h1v1h-1zM733 185h1v1h-1zM805 185h1v1h-1zM585 186h1v1h-1zM650 186h1v1h-1zM733 186h1v1h-1zM805 186h1v1h-1zM585 187h1v1h-1zM651 187h1v1h-1zM732 187h1v1h-1zM805 187h1v1h-1zM585 188h1v1h-1zM651 188h1v1h-1zM731 188h1v1h-1zM805 188h1v1h-1zM585 189h1v1h-1zM652 189h1v1h-1zM731 189h1v1h-1zM806 189h1v1h-1zM585 190h1v1h-1zM652 190h1v1h-1zM730 190h1v1h-1zM806 190h1v1h-1zM476 191h4v1h-4zM584 191h1v1h-1zM653 191h2v1h-2zM730 191h1v1h-1zM806 191h1v1h-1zM474 192h2v1h-2zM480 192h5v1h-5zM584 192h1v1h-1zM655 192h1v1h-1zM729 192h1v1h-1zM806 192h1v1h-1zM473 193h1v1h-1zM485 193h2v1h-2zM584 193h1v1h-1zM656 193h2v1h-2zM729 193h1v1h-1zM807 193h1v1h-1zM472 194h1v1h-1zM487 194h1v1h-1zM584 194h1v1h-1zM658 194h2v1h-2zM728 194h1v1h-1zM807 194h1v1h-1zM470 195h2v1h-2zM488 195h2v1h-2zM583 195h1v1h-1zM660 195h1v1h-1zM728 195h1v1h-1zM807 195h1v1h-1zM469 196h1v1h-1zM490 196h2v1h-2zM583 196h1v1h-1zM661 196h1v1h-1zM727 196h1v1h-1zM807 196h1v1h-1zM468 197h1v1h-1zM492 197h4v1h-4zM583 197h1v1h-1zM662 197h1v1h-1zM727 197h1v1h-1zM808 197h1v1h-1zM466 198h2v1h-2zM496 198h6v1h-6zM583 198h1v1h-1zM662 198h1v1h-1zM726 198h1v1h-1zM808 198h1v1h-1zM465 199h1v1h-1zM502 199h4v1h-4zM583 199h1v1h-1zM663 199h1v1h-1zM726 199h1v1h-1zM808 199h1v1h-1zM464 200h1v1h-1zM506 200h14v1h-14zM582 200h1v1h-1zM664 200h1v1h-1zM725 200h1v1h-1zM808 200h1v1h-1zM462 201h2v1h-2zM520 201h5v1h-5zM582 201h1v1h-1zM665 201h1v1h-1zM725 201h1v1h-1zM809 201h1v1h-1zM461 202h1v1h-1zM525 202h1v1h-1zM582 202h1v1h-1zM666 202h1v1h-1zM724 202h1v1h-1zM809 202h1v1h-1zM460 203h1v1h-1zM526 203h2v1h-2zM582 203h1v1h-1zM666 203h1v1h-1zM723 203h1v1h-1zM809 203h1v1h-1zM458 204h2v1h-2zM528 204h1v1h-1zM582 204h1v1h-1zM667 204h1v1h-1zM723 204h1v1h-1zM809 204h1v1h-1zM457 205h1v1h-1zM529 205h1v1h-1zM581 205h1v1h-1zM668 205h1v1h-1zM722 205h1v1h-1zM810 205h1v1h-1zM456 206h1v1h-1zM530 206h2v1h-2zM581 206h1v1h-1zM669 206h1v1h-1zM722 206h1v1h-1zM810 206h1v1h-1zM454 207h2v1h-2zM532 207h1v1h-1zM581 207h1v1h-1zM670 207h1v1h-1zM721 207h1v1h-1zM810 207h1v1h-1zM453 208h1v1h-1zM533 208h1v1h-1zM581 208h1v1h-1zM670 208h1v1h-1zM721 208h1v1h-1zM810 208h1v1h-1zM452 209h1v1h-1zM533 209h1v1h-1zM580 209h1v1h-1zM671 209h1v1h-1zM720 209h1v1h-1zM811 209h1v1h-1zM452 210h1v1h-1zM534 210h1v1h-1zM580 210h1v1h-1zM672 210h1v1h-1zM720 210h1v1h-1zM811 210h1v1h-1zM451 211h1v1h-1zM534 211h1v1h-1zM580 211h1v1h-1zM673 211h1v1h-1zM719 211h1v1h-1zM811 211h1v1h-1zM451 212h1v1h-1zM535 212h1v1h-1zM580 212h1v1h-1zM674 212h1v1h-1zM719 212h1v1h-1zM811 212h1v1h-1zM450 213h1v1h-1zM535 213h1v1h-1zM579 213h1v1h-1zM674 213h1v1h-1zM718 213h1v1h-1zM812 213h1v1h-1zM916 213h1v1h-1zM450 214h1v1h-1zM536 214h1v1h-1zM579 214h1v1h-1zM675 214h1v1h-1zM718 214h1v1h-1zM812 214h1v1h-1zM915 214h1v1h-1zM449 215h1v1h-1zM537 215h1v1h-1zM579 215h1v1h-1zM676 215h1v1h-1zM717 215h1v1h-1zM813 215h1v1h-1zM914 215h1v1h-1zM449 216h1v1h-1zM537 216h1v1h-1zM578 216h1v1h-1zM677 216h1v1h-1zM717 216h1v1h-1zM814 216h1v1h-1zM913 216h1v1h-1zM448 217h1v1h-1zM538 217h1v1h-1zM578 217h1v1h-1zM677 217h1v1h-1zM716 217h1v1h-1zM814 217h1v1h-1zM912 217h1v1h-1zM448 218h1v1h-1zM538 218h1v1h-1zM578 218h1v1h-1zM678 218h1v1h-1zM715 218h1v1h-1zM815 218h1v1h-1zM911 218h1v1h-1zM447 219h1v1h-1zM539 219h1v1h-1zM577 219h1v1h-1zM678 219h1v1h-1zM715 219h1v1h-1zM816 219h1v1h-1zM910 219h1v1h-1zM447 220h1v1h-1zM539 220h1v1h-1zM577 220h1v1h-1zM679 220h1v1h-1zM714 220h1v1h-1zM817 220h1v1h-1zM909 220h1v1h-1zM446 221h1v1h-1zM540 221h1v1h-1zM577 221h1v1h-1zM680 221h1v1h-1zM714 221h1v1h-1zM818 221h1v1h-1zM908 221h1v1h-1zM446 222h1v1h-1zM541 222h1v1h-1zM576 222h1v1h-1zM680 222h1v1h-1zM713 222h1v1h-1zM818 222h1v1h-1zM907 222h1v1h-1zM445 223h1v1h-1zM542 223h1v1h-1zM576 223h1v1h-1zM681 223h1v1h-1zM712 223h1v1h-1zM819 223h1v1h-1zM907 223h1v1h-1zM445 224h1v1h-1zM542 224h1v1h-1zM576 224h1v1h-1zM682 224h1v1h-1zM712 224h1v1h-1zM820 224h1v1h-1zM906 224h1v1h-1zM444 225h1v1h-1zM543 225h1v1h-1zM576 225h1v1h-1zM682 225h1v1h-1zM711 225h1v1h-1zM821 225h1v1h-1zM905 225h1v1h-1zM443 226h1v1h-1zM544 226h1v1h-1zM575 226h1v1h-1zM683 226h1v1h-1zM710 226h1v1h-1zM821 226h1v1h-1zM905 226h1v1h-1zM442 227h1v1h-1zM545 227h1v1h-1zM575 227h1v1h-1zM683 227h1v1h-1zM710 227h1v1h-1zM822 227h1v1h-1zM904 227h1v1h-1zM442 228h1v1h-1zM546 228h1v1h-1zM575 228h1v1h-1zM684 228h1v1h-1zM709 228h1v1h-1zM823 228h1v1h-1zM903 228h1v1h-1zM441 229h1v1h-1zM546 229h1v1h-1zM574 229h1v1h-1zM685 229h2v1h-2zM709 229h1v1h-1zM824 229h1v1h-1zM903 229h1v1h-1zM440 230h1v1h-1zM547 230h1v1h-1zM574 230h1v1h-1zM687 230h1v1h-1zM708 230h1v1h-1zM824 230h1v1h-1zM902 230h1v1h-1zM439 231h1v1h-1zM548 231h2v1h-2zM574 231h1v1h-1zM688 231h2v1h-2zM707 231h1v1h-1zM825 231h1v1h-1zM901 231h1v1h-1zM438 232h1v1h-1zM550 232h2v1h-2zM573 232h1v1h-1zM690 232h2v1h-2zM706 232h1v1h-1zM826 232h1v1h-1zM901 232h1v1h-1zM438 233h1v1h-1zM552 233h3v1h-3zM573 233h1v1h-1zM692 233h1v1h-1zM704 233h2v1h-2zM827 233h1v1h-1zM843 233h11v1h-11zM900 233h1v1h-1zM4 234h1v1h-1zM437 234h1v1h-1zM555 234h11v1h-11zM573 234h1v1h-1zM693 234h2v1h-2zM703 234h1v1h-1zM827 234h1v1h-1zM840 234h3v1h-3zM854 234h2v1h-2zM899 234h1v1h-1zM5 235h1v1h-1zM436 235h1v1h-1zM566 235h4v1h-4zM572 235h1v1h-1zM695 235h2v1h-2zM702 235h1v1h-1zM828 235h4v1h-4zM838 235h2v1h-2zM856 235h3v1h-3zM898 235h1v1h-1zM6 236h2v1h-2zM434 236h2v1h-2zM570 236h3v1h-3zM697 236h2v1h-2zM701 236h1v1h-1zM832 236h6v1h-6zM859 236h5v1h-5zM896 236h2v1h-2zM8 237h1v1h-1zM432 237h2v1h-2zM699 237h2v1h-2zM864 237h5v1h-5zM895 237h1v1h-1zM9 238h1v1h-1zM431 238h1v1h-1zM869 238h1v1h-1zM894 238h1v1h-1zM10 239h2v1h-2zM429 239h2v1h-2zM870 239h1v1h-1zM893 239h1v1h-1zM12 240h2v1h-2zM428 240h1v1h-1zM871 240h1v1h-1zM892 240h1v1h-1zM14 241h4v1h-4zM427 241h1v1h-1zM872 241h1v1h-1zM890 241h2v1h-2zM18 242h4v1h-4zM426 242h1v1h-1zM872 242h1v1h-1zM888 242h2v1h-2zM22 243h4v1h-4zM426 243h1v1h-1zM873 243h1v1h-1zM887 243h1v1h-1zM26 244h4v1h-4zM425 244h1v1h-1zM874 244h1v1h-1zM885 244h2v1h-2zM30 245h4v1h-4zM424 245h1v1h-1zM875 245h1v1h-1zM880 245h5v1h-5zM34 246h3v1h-3zM423 246h1v1h-1zM876 246h4v1h-4zM37 247h1v1h-1zM422 247h1v1h-1zM38 248h2v1h-2zM51 248h2v1h-2zM422 248h1v1h-1zM40 249h1v1h-1zM49 249h2v1h-2zM52 249h1v1h-1zM421 249h1v1h-1zM41 250h1v1h-1zM47 250h2v1h-2zM53 250h1v1h-1zM292 250h1v1h-1zM420 250h1v1h-1zM42 251h2v1h-2zM45 251h2v1h-2zM53 251h1v1h-1zM290 251h2v1h-2zM293 251h1v1h-1zM419 251h1v1h-1zM44 252h1v1h-1zM54 252h1v1h-1zM288 252h2v1h-2zM294 252h2v1h-2zM352 252h6v1h-6zM419 252h1v1h-1zM54 253h1v1h-1zM287 253h1v1h-1zM296 253h1v1h-1zM348 253h4v1h-4zM358 253h2v1h-2zM418 253h1v1h-1zM55 254h1v1h-1zM285 254h2v1h-2zM297 254h1v1h-1zM347 254h1v1h-1zM360 254h3v1h-3zM417 254h1v1h-1zM55 255h1v1h-1zM284 255h1v1h-1zM298 255h2v1h-2zM346 255h1v1h-1zM363 255h2v1h-2zM416 255h1v1h-1zM56 256h1v1h-1zM282 256h2v1h-2zM300 256h1v1h-1zM344 256h2v1h-2zM365 256h1v1h-1zM416 256h1v1h-1zM56 257h1v1h-1zM280 257h2v1h-2zM301 257h1v1h-1zM343 257h1v1h-1zM365 257h1v1h-1zM415 257h1v1h-1zM57 258h1v1h-1zM279 258h1v1h-1zM302 258h1v1h-1zM342 258h1v1h-1zM366 258h1v1h-1zM414 258h1v1h-1zM57 259h1v1h-1zM277 259h2v1h-2zM303 259h1v1h-1zM341 259h1v1h-1zM366 259h1v1h-1zM413 259h1v1h-1zM58 260h1v1h-1zM276 260h1v1h-1zM304 260h1v1h-1zM340 260h1v1h-1zM367 260h1v1h-1zM413 260h1v1h-1zM58 261h1v1h-1zM275 261h1v1h-1zM305 261h1v1h-1zM340 261h1v1h-1zM367 261h1v1h-1zM412 261h1v1h-1zM59 262h1v1h-1zM275 262h1v1h-1zM306 262h1v1h-1zM339 262h1v1h-1zM368 262h1v1h-1zM411 262h1v1h-1zM59 263h1v1h-1zM274 263h1v1h-1zM307 263h1v1h-1zM339 263h1v1h-1zM368 263h1v1h-1zM411 263h1v1h-1zM60 264h1v1h-1zM274 264h1v1h-1zM308 264h1v1h-1zM338 264h1v1h-1zM369 264h1v1h-1zM410 264h1v1h-1zM60 265h1v1h-1zM273 265h1v1h-1zM309 265h1v1h-1zM338 265h1v1h-1zM369 265h1v1h-1zM410 265h1v1h-1zM60 266h1v1h-1zM272 266h1v1h-1zM310 266h1v1h-1zM337 266h1v1h-1zM370 266h1v1h-1zM409 266h1v1h-1zM61 267h1v1h-1zM272 267h1v1h-1zM310 267h1v1h-1zM337 267h1v1h-1zM370 267h1v1h-1zM409 267h1v1h-1zM61 268h1v1h-1zM271 268h1v1h-1zM311 268h1v1h-1zM337 268h1v1h-1zM371 268h1v1h-1zM408 268h1v1h-1zM62 269h1v1h-1zM270 269h1v1h-1zM312 269h1v1h-1zM336 269h1v1h-1zM371 269h1v1h-1zM407 269h1v1h-1zM62 270h1v1h-1zM270 270h1v1h-1zM313 270h1v1h-1zM336 270h1v1h-1zM372 270h1v1h-1zM407 270h1v1h-1zM63 271h1v1h-1zM269 271h1v1h-1zM314 271h1v1h-1zM335 271h1v1h-1zM372 271h1v1h-1zM406 271h1v1h-1zM63 272h1v1h-1zM269 272h1v1h-1zM314 272h1v1h-1zM335 272h1v1h-1zM373 272h1v1h-1zM406 272h1v1h-1zM63 273h1v1h-1zM268 273h1v1h-1zM315 273h1v1h-1zM335 273h1v1h-1zM373 273h1v1h-1zM405 273h1v1h-1zM64 274h1v1h-1zM267 274h1v1h-1zM316 274h1v1h-1zM334 274h1v1h-1zM374 274h1v1h-1zM405 274h1v1h-1zM64 275h1v1h-1zM266 275h1v1h-1zM317 275h1v1h-1zM334 275h1v1h-1zM374 275h1v1h-1zM404 275h1v1h-1zM65 276h1v1h-1zM265 276h1v1h-1zM318 276h2v1h-2zM333 276h1v1h-1zM375 276h1v1h-1zM403 276h1v1h-1zM65 277h1v1h-1zM264 277h1v1h-1zM320 277h1v1h-1zM333 277h1v1h-1zM375 277h1v1h-1zM402 277h1v1h-1zM65 278h1v1h-1zM263 278h1v1h-1zM321 278h1v1h-1zM332 278h1v1h-1zM376 278h1v1h-1zM402 278h1v1h-1zM66 279h1v1h-1zM262 279h1v1h-1zM322 279h2v1h-2zM328 279h5v1h-5zM376 279h1v1h-1zM401 279h1v1h-1zM66 280h1v1h-1zM261 280h1v1h-1zM324 280h4v1h-4zM377 280h1v1h-1zM400 280h1v1h-1zM67 281h1v1h-1zM260 281h1v1h-1zM377 281h1v1h-1zM399 281h1v1h-1zM67 282h1v1h-1zM259 282h1v1h-1zM378 282h1v1h-1zM398 282h1v1h-1zM68 283h1v1h-1zM258 283h1v1h-1zM378 283h1v1h-1zM398 283h1v1h-1zM68 284h1v1h-1zM258 284h1v1h-1zM379 284h1v1h-1zM397 284h1v1h-1zM68 285h1v1h-1zM257 285h1v1h-1zM379 285h1v1h-1zM396 285h1v1h-1zM69 286h1v1h-1zM256 286h1v1h-1zM380 286h1v1h-1zM394 286h2v1h-2zM69 287h1v1h-1zM255 287h1v1h-1zM380 287h1v1h-1zM393 287h1v1h-1zM69 288h1v1h-1zM254 288h1v1h-1zM381 288h2v1h-2zM392 288h1v1h-1zM70 289h1v1h-1zM254 289h1v1h-1zM383 289h2v1h-2zM390 289h2v1h-2zM70 290h1v1h-1zM253 290h1v1h-1zM385 290h2v1h-2zM389 290h1v1h-1zM70 291h1v1h-1zM252 291h1v1h-1zM387 291h2v1h-2zM71 292h1v1h-1zM251 292h1v1h-1zM71 293h1v1h-1zM251 293h1v1h-1zM71 294h1v1h-1zM250 294h1v1h-1zM72 295h1v1h-1zM250 295h1v1h-1zM72 296h1v1h-1zM249 296h1v1h-1zM73 297h1v1h-1zM249 297h1v1h-1zM73 298h1v1h-1zM248 298h1v1h-1zM73 299h1v1h-1zM248 299h1v1h-1zM74 300h1v1h-1zM247 300h1v1h-1zM74 301h1v1h-1zM247 301h1v1h-1zM74 302h1v1h-1zM246 302h1v1h-1zM75 303h1v1h-1zM246 303h1v1h-1zM75 304h1v1h-1zM245 304h1v1h-1zM75 305h1v1h-1zM245 305h1v1h-1zM76 306h1v1h-1zM244 306h1v1h-1zM76 307h1v1h-1zM243 307h1v1h-1zM77 308h1v1h-1zM243 308h1v1h-1zM77 309h1v1h-1zM242 309h1v1h-1zM78 310h1v1h-1zM242 310h1v1h-1zM78 311h1v1h-1zM241 311h1v1h-1zM79 312h1v1h-1zM241 312h1v1h-1zM79 313h1v1h-1zM240 313h1v1h-1zM80 314h1v1h-1zM240 314h1v1h-1zM80 315h1v1h-1zM239 315h1v1h-1zM81 316h1v1h-1zM239 316h1v1h-1zM81 317h1v1h-1zM238 317h1v1h-1zM82 318h1v1h-1zM238 318h1v1h-1zM82 319h1v1h-1zM237 319h1v1h-1zM83 320h1v1h-1zM237 320h1v1h-1zM83 321h1v1h-1zM235 321h2v1h-2zM84 322h1v1h-1zM233 322h2v1h-2zM84 323h1v1h-1zM231 323h2v1h-2zM85 324h1v1h-1zM229 324h2v1h-2zM85 325h1v1h-1zM228 325h1v1h-1zM85 326h1v1h-1zM227 326h1v1h-1zM86 327h1v1h-1zM226 327h1v1h-1zM86 328h1v1h-1zM225 328h1v1h-1zM86 329h1v1h-1zM224 329h1v1h-1zM86 330h1v1h-1zM223 330h1v1h-1zM87 331h1v1h-1zM222 331h1v1h-1zM87 332h1v1h-1zM221 332h1v1h-1zM87 333h1v1h-1zM216 333h5v1h-5zM88 334h1v1h-1zM212 334h4v1h-4zM88 335h1v1h-1zM138 335h3v1h-3zM210 335h2v1h-2zM88 336h1v1h-1zM134 336h4v1h-4zM141 336h1v1h-1zM209 336h1v1h-1zM89 337h1v1h-1zM131 337h3v1h-3zM141 337h1v1h-1zM208 337h1v1h-1zM89 338h1v1h-1zM128 338h3v1h-3zM142 338h1v1h-1zM206 338h2v1h-2zM89 339h1v1h-1zM126 339h2v1h-2zM142 339h1v1h-1zM205 339h1v1h-1zM90 340h1v1h-1zM123 340h3v1h-3zM143 340h1v1h-1zM204 340h1v1h-1zM90 341h1v1h-1zM121 341h2v1h-2zM143 341h1v1h-1zM203 341h1v1h-1zM90 342h1v1h-1zM119 342h2v1h-2zM144 342h1v1h-1zM203 342h1v1h-1zM90 343h1v1h-1zM117 343h2v1h-2zM144 343h1v1h-1zM202 343h1v1h-1zM91 344h1v1h-1zM116 344h1v1h-1zM145 344h1v1h-1zM201 344h1v1h-1zM91 345h1v1h-1zM115 345h1v1h-1zM145 345h1v1h-1zM200 345h1v1h-1zM91 346h1v1h-1zM114 346h1v1h-1zM146 346h1v1h-1zM200 346h1v1h-1zM92 347h1v1h-1zM112 347h2v1h-2zM146 347h1v1h-1zM199 347h1v1h-1zM92 348h1v1h-1zM111 348h1v1h-1zM147 348h1v1h-1zM198 348h1v1h-1zM93 349h1v1h-1zM110 349h1v1h-1zM147 349h1v1h-1zM197 349h1v1h-1zM94 350h2v1h-2zM109 350h1v1h-1zM148 350h1v1h-1zM197 350h1v1h-1zM96 351h1v1h-1zM107 351h2v1h-2zM149 351h1v1h-1zM196 351h1v1h-1zM97 352h1v1h-1zM104 352h3v1h-3zM149 352h1v1h-1zM195 352h1v1h-1zM98 353h2v1h-2zM102 353h2v1h-2zM150 353h1v1h-1zM195 353h1v1h-1zM100 354h2v1h-2zM151 354h1v1h-1zM194 354h1v1h-1zM152 355h1v1h-1zM194 355h1v1h-1zM152 356h1v1h-1zM193 356h1v1h-1zM153 357h1v1h-1zM192 357h1v1h-1zM154 358h1v1h-1zM192 358h1v1h-1zM155 359h1v1h-1zM191 359h1v1h-1zM155 360h1v1h-1zM190 360h1v1h-1zM156 361h1v1h-1zM190 361h1v1h-1zM156 362h1v1h-1zM189 362h1v1h-1zM157 363h1v1h-1zM189 363h1v1h-1zM157 364h1v1h-1zM188 364h1v1h-1zM158 365h1v1h-1zM187 365h1v1h-1zM158 366h1v1h-1zM187 366h1v1h-1zM159 367h1v1h-1zM186 367h1v1h-1zM159 368h1v1h-1zM186 368h1v1h-1zM160 369h1v1h-1zM185 369h1v1h-1zM160 370h1v1h-1zM184 370h1v1h-1zM161 371h1v1h-1zM184 371h1v1h-1zM161 372h1v1h-1zM183 372h1v1h-1zM162 373h1v1h-1zM182 373h1v1h-1zM162 374h1v1h-1zM182 374h1v1h-1zM163 375h1v1h-1zM181 375h1v1h-1zM163 376h1v1h-1zM181 376h1v1h-1zM164 377h1v1h-1zM179 377h2v1h-2zM164 378h2v1h-2zM177 378h2v1h-2zM166 379h2v1h-2zM175 379h2v1h-2zM168 380h3v1h-3zM173 380h2v1h-2zM171 381h2v1h-2z" fill="#0000ff"/>
<g clip-path="url(#cmain)">
<rect x="4" y="222" width="1" height="32" fill="#ff0000"/>
<rect x="2" y="234" width="5" height="3" fill="#ff0000"/>
<rect x="3" y="235" width="3" height="1" fill="#ff4500"/>
<rect x="12" y="210" width="1" height="68" fill="#32cd32"/>
<rect x="10" y="235" width="5" height="20" fill="#32cd32"/>
<rect x="20" y="226" width="1" height="42" fill="#ff0000"/>
<rect x="18" y="249" width="5" height="5" fill="#ff0000"/>
<rect x="19" y="250" width="3" height="3" fill="#ff4500"/>
<rect x="28" y="232" width="1" height="26" fill="#32cd32"/>
<rect x="26" y="248" width="5" height="2" fill="#32cd32"/>
<rect x="36" y="237" width="1" height="35" fill="#ff0000"/>
<rect x="34" y="242" width="5" height="8" fill="#ff0000"/>
<rect x="35" y="243" width="3" height="6" fill="#ff4500"/>
<rect x="44" y="245" width="1" height="50" fill="#32cd32"/>
<rect x="42" y="249" width="5" height="19" fill="#32cd32"/>
<rect x="52" y="227" width="1" height="49" fill="#ff0000"/>
<rect x="50" y="234" width="5" height="34" fill="#ff0000"/>
<rect x="51" y="235" width="3" height="32" fill="#ff4500"/>
<rect x="60" y="220" width="1" height="127" fill="#32cd32"/>
<rect x="58" y="234" width="5" height="102" fill="#32cd32"/>
<rect x="68" y="326" width="1" height="35" fill="#32cd32"/>
<rect x="66" y="336" width="5" height="7" fill="#32cd32"/>
<rect x="76" y="336" width="1" height="36" fill="#32cd32"/>
<rect x="74" y="341" width="5" height="19" fill="#32cd32"/>
<rect x="84" y="330" width="1" height="38" fill="#ff0000"/>
<rect x="82" y="341" width="5" height="19" fill="#ff0000"/>
<rect x="83" y="342" width="3" height="17" fill="#ff4500"/>
<rect x="92" y="340" width="1" height="34" fill="#32cd32"/>
<rect x="90" y="340" width="5" height="26" fill="#32cd32"/>
<rect x="100" y="361" width="1" height="17" fill="#ff0000"/>
<rect x="98" y="363" width="5" height="3" fill="#ff0000"/>
<rect x="99" y="364" width="3" height="1" fill="#ff4500"/>
<rect x="108" y="320" width="1" height="59" fill="#ff0000"/>
<rect x="106" y="327" width="5" height="38" fill="#ff0000"/>
<rect x="107" y="328" width="3" height="36" fill="#ff4500"/>
<rect x="116" y="310" width="1" height="25" fill="#ff0000"/>
<rect x="114" y="326" width="5" height="2" fill="#ff0000"/>
<rect x="124" y="316" width="1" height="25" fill="#ff0000"/>
<rect x="122" y="318" width="5" height="8" fill="#ff0000"/>
<rect x="123" y="319" width="3" height="6" fill="#ff4500"/>
<rect x="132" y="313" width="1" height="43" fill="#32cd32"/>
<rect x="130" y="317" width="5" height="35" fill="#32cd32"/>
<rect x="140" y="341" width="1" height="14" fill="#32cd32"/>
<rect x="138" y="351" width="5" height="4" fill="#32cd32"/>
<rect x="148" y="345" width="1" height="57" fill="#32cd32"/>
<rect x="146" y="353" width="5" height="48" fill="#32cd32"/>
<rect x="156" y="362" width="1" height="52" fill="#ff0000"/>
<rect x="154" y="381" width="5" height="21" fill="#ff0000"/>
<rect x="155" y="382" width="3" height="19" fill="#ff4500"/>
<rect x="164" y="361" width="1" height="56" fill="#32cd32"/>
<rect x="162" y="381" width="5" height="23" fill="#32cd32"/>
<rect x="172" y="358" width="1" height="60" fill="#ff0000"/>
<rect x="170" y="366" width="5" height="39" fill="#ff0000"/>
<rect x="171" y="367" width="3" height="37" fill="#ff4500"/>
<rect x="180" y="311" width="1" height="60" fill="#ff0000"/>
<rect x="178" y="332" width="5" height="36" fill="#ff0000"/>
<rect x="179" y="333" width="3" height="34" fill="#ff4500"/>
<rect x="188" y="320" width="1" height="22" fill="#32cd32"/>
<rect x="186" y="332" width="5" height="4" fill="#32cd32"/>
<rect x="196" y="308" width="1" height="31" fill="#ff0000"/>
<rect x="194" y="318" width="5" height="17" fill="#ff0000"/>
<rect x="195" y="319" width="3" height="15" fill="#ff4500"/>
<rect x="204" y="329" width="1" height="37" fill="#32cd32"/>
<rect x="202" y="338" width="5" height="12" fill="#32cd32"/>
<rect x="212" y="322" width="1" height="32" fill="#ff0000"/>
<rect x="210" y="336" width="5" height="14" fill="#ff0000"/>
<rect x="211" y="337" width="3" height="12" fill="#ff4500"/>
<rect x="220" y="308" width="1" height="32" fill="#ff0000"/>
<rect x="218" y="327" width="5" height="10" fill="#ff0000"/>
<rect x="219" y="328" width="3" height="8" fill="#ff4500"/>
<rect x="228" y="278" width="1" height="52" fill="#ff0000"/>
<rect x="226" y="296" width="5" height="32" fill="#ff0000"/>
<rect x="227" y="297" width="3" height="30" fill="#ff4500"/>
<rect x="236" y="291" width="1" height="16" fill="#32cd32"/>
<rect x="234" y="295" width="5" height="5" fill="#32cd32"/>
<rect x="244" y="254" width="1" height="57" fill="#ff0000"/>
<rect x="242" y="270" width="5" height="30" fill="#ff0000"/>
<rect x="243" y="271" width="3" height="28" fill="#ff4500"/>
<rect x="252" y="245" width="1" height="52" fill="#ff0000"/>
<rect x="250" y="263" width="5" height="7" fill="#ff0000"/>
<rect x="251" y="264" width="3" height="5" fill="#ff4500"/>
<rect x="260" y="256" width="1" height="25" fill="#32cd32"/>
<rect x="258" y="263" width="5" height="18" fill="#32cd32"/>
<rect x="268" y="251" width="1" height="30" fill="#ff0000"/>
<rect x="266" y="254" width="5" height="27" fill="#ff0000"/>
<rect x="267" y="255" width="3" height="25" fill="#ff4500"/>
<rect x="276" y="232" width="1" height="54" fill="#ff0000"/>
<rect x="274" y="236" width="5" height="18" fill="#ff0000"/>
<rect x="275" y="237" width="3" height="16" fill="#ff4500"/>
<rect x="284" y="220" width="1" height="28" fill="#32cd32"/>
<rect x="282" y="237" width="5" height="7" fill="#32cd32"/>
<rect x="292" y="227" width="1" height="21" fill="#ff0000"/>
<rect x="290" y="238" width="5" height="5" fill="#ff0000"/>
<rect x="291" y="239" width="3" height="3" fill="#ff4500"/>
<rect x="300" y="238" width="1" height="73" fill="#32cd32"/>
<rect x="298" y="238" width="5" height="73" fill="#32cd32"/>
<rect x="308" y="288" width="1" height="28" fill="#ff0000"/>
<rect x="306" y="294" width="5" height="17" fill="#ff0000"/>
<rect x="307" y="295" width="3" height="15" fill="#ff4500"/>
<rect x="316" y="266" width="1" height="48" fill="#ff0000"/>
<rect x="314" y="287" width="5" height="8" fill="#ff0000"/>
<rect x="315" y="288" width="3" height="6" fill="#ff4500"/>
<rect x="324" y="259" width="1" height="43" fill="#ff0000"/>
<rect x="322" y="273" width="5" height="12" fill="#ff0000"/>
<rect x="323" y="274" width="3" height="10" fill="#ff4500"/>
<rect x="332" y="225" width="1" height="49" fill="#ff0000"/>
<rect x="330" y="233" width="5" height="40" fill="#ff0000"/>
<rect x="331" y="234" width="3" height="38" fill="#ff4500"/>
<rect x="340" y="208" width="1" height="43" fill="#ff0000"/>
<rect x="338" y="212" width="5" height="22" fill="#ff0000"/>
<rect x="339" y="213" width="3" height="20" fill="#ff4500"/>
<rect x="348" y="207" width="1" height="65" fill="#32cd32"/>
<rect x="346" y="212" width="5" height="47" fill="#32cd32"/>
<rect x="356" y="246" width="1" height="50" fill="#32cd32"/>
<rect x="354" y="258" width="5" height="29" fill="#32cd32"/>
<rect x="364" y="272" width="1" height="24" fill="#32cd32"/>
<rect x="362" y="286" width="5" height="4" fill="#32cd32"/>
<rect x="372" y="289" width="1" height="44" fill="#32cd32"/>
<rect x="370" y="289" width="5" height="25" fill="#32cd32"/>
<rect x="380" y="288" width="1" height="33" fill="#ff0000"/>
<rect x="378" y="289" width="5" height="25" fill="#ff0000"/>
<rect x="379" y="290" width="3" height="23" fill="#ff4500"/>
<rect x="388" y="273" width="1" height="32" fill="#ff0000"/>
<rect x="386" y="279" width="5" height="11" fill="#ff0000"/>
<rect x="387" y="280" width="3" height="9" fill="#ff4500"/>
<rect x="396" y="245" width="1" height="43" fill="#ff0000"/>
<rect x="394" y="256" width="5" height="24" fill="#ff0000"/>
<rect x="395" y="257" width="3" height="22" fill="#ff4500"/>
<rect x="404" y="218" width="1" height="40" fill="#ff0000"/>
<rect x="402" y="238" width="5" height="20" fill="#ff0000"/>
<rect x="403" y="239" width="3" height="18" fill="#ff4500"/>
<rect x="412" y="218" width="1" height="28" fill="#32cd32"/>
<rect x="410" y="238" width="5" height="6" fill="#32cd32"/>
<rect x="420" y="230" width="1" height="39" fill="#ff0000"/>
<rect x="418" y="235" width="5" height="9" fill="#ff0000"/>
<rect x="419" y="236" width="3" height="7" fill="#ff4500"/>
<rect x="428" y="209" width="1" height="37" fill="#ff0000"/>
<rect x="426" y="226" width="5" height="10" fill="#ff0000"/>
<rect x="427" y="227" width="3" height="8" fill="#ff4500"/>
<rect x="436" y="224" width="1" height="21" fill="#32cd32"/>
<rect x="434" y="225" width="5" height="10" fill="#32cd32"/>
<rect x="444" y="183" width="1" height="69" fill="#ff0000"/>
<rect x="442" y="187" width="5" height="58" fill="#ff0000"/>
<rect x="443" y="188" width="3" height="56" fill="#ff4500"/>
<rect x="452" y="160" width="1" height="33" fill="#ff0000"/>
<rect x="450" y="164" width="5" height="25" fill="#ff0000"/>
<rect x="451" y="165" width="3" height="23" fill="#ff4500"/>
<rect x="460" y="158" width="1" height="49" fill="#32cd32"/>
<rect x="458" y="164" width="5" height="38" fill="#32cd32"/>
<rect x="468" y="175" width="1" height="39" fill="#ff0000"/>
<rect x="466" y="198" width="5" height="4" fill="#ff0000"/>
<rect x="467" y="199" width="3" height="2" fill="#ff4500"/>
<rect x="476" y="195" width="1" height="35" fill="#32cd32"/>
<rect x="474" y="199" width="5" height="6" fill="#32cd32"/>
<rect x="484" y="193" width="1" height="33" fill="#ff0000"/>
<rect x="482" y="194" width="5" height="10" fill="#ff0000"/>
<rect x="483" y="195" width="3" height="8" fill="#ff4500"/>
<rect x="492" y="178" width="1" height="48" fill="#ff0000"/>
<rect x="490" y="189" width="5" height="4" fill="#ff0000"/>
<rect x="491" y="190" width="3" height="2" fill="#ff4500"/>
<rect x="500" y="185" width="1" height="29" fill="#32cd32"/>
<rect x="498" y="190" width="5" height="18" fill="#32cd32"/>
<rect x="508" y="193" width="1" height="27" fill="#32cd32"/>
<rect x="506" y="206" width="5" height="3" fill="#32cd32"/>
<rect x="516" y="186" width="1" height="28" fill="#ff0000"/>
<rect x="514" y="203" width="5" height="6" fill="#ff0000"/>
<rect x="515" y="204" width="3" height="4" fill="#ff4500"/>
<rect x="524" y="187" width="1" height="19" fill="#ff0000"/>
<rect x="522" y="199" width="5" height="5" fill="#ff0000"/>
<rect x="523" y="200" width="3" height="3" fill="#ff4500"/>
<rect x="532" y="194" width="1" height="37" fill="#32cd32"/>
<rect x="530" y="197" width="5" height="25" fill="#32cd32"/>
<rect x="540" y="221" width="1" height="78" fill="#32cd32"/>
<rect x="538" y="221" width="5" height="55" fill="#32cd32"/>
<rect x="548" y="255" width="1" height="21" fill="#ff0000"/>
<rect x="546" y="255" width="5" height="21" fill="#ff0000"/>
<rect x="547" y="256" width="3" height="19" fill="#ff4500"/>
<rect x="556" y="218" width="1" height="41" fill="#ff0000"/>
<rect x="554" y="219" width="5" height="38" fill="#ff0000"/>
<rect x="555" y="220" width="3" height="36" fill="#ff4500"/>
<rect x="564" y="200" width="1" height="30" fill="#ff0000"/>
<rect x="562" y="203" width="5" height="17" fill="#ff0000"/>
<rect x="563" y="204" width="3" height="15" fill="#ff4500"/>
<rect x="572" y="196" width="1" height="45" fill="#32cd32"/>
<rect x="570" y="203" width="5" height="28" fill="#32cd32"/>
<rect x="580" y="92" width="1" height="157" fill="#ff0000"/>
<rect x="578" y="150" width="5" height="82" fill="#ff0000"/>
<rect x="579" y="151" width="3" height="80" fill="#ff4500"/>
<rect x="588" y="51" width="1" height="125" fill="#ff0000"/>
<rect x="586" y="69" width="5" height="83" fill="#ff0000"/>
<rect x="587" y="70" width="3" height="81" fill="#ff4500"/>
<rect x="596" y="56" width="1" height="52" fill="#32cd32"/>
<rect x="594" y="70" width="5" height="36" fill="#32cd32"/>
<rect x="604" y="73" width="1" height="48" fill="#32cd32"/>
<rect x="602" y="104" width="5" height="4" fill="#32cd32"/>
<rect x="612" y="106" width="1" height="48" fill="#32cd32"/>
<rect x="610" y="107" width="5" height="21" fill="#32cd32"/>
<rect x="620" y="127" width="1" height="73" fill="#32cd32"/>
<rect x="618" y="127" width="5" height="53" fill="#32cd32"/>
<rect x="628" y="174" width="1" height="52" fill="#ff0000"/>
<rect x="626" y="176" width="5" height="5" fill="#ff0000"/>
<rect x="627" y="177" width="3" height="3" fill="#ff4500"/>
<rect x="636" y="164" width="1" height="51" fill="#32cd32"/>
<rect x="634" y="174" width="5" height="19" fill="#32cd32"/>
<rect x="644" y="183" width="1" height="24" fill="#ff0000"/>
<rect x="642" y="185" width="5" height="8" fill="#ff0000"/>
<rect x="643" y="186" width="3" height="6" fill="#ff4500"/>
<rect x="652" y="169" width="1" height="60" fill="#32cd32"/>
<rect x="650" y="185" width="5" height="34" fill="#32cd32"/>
<rect x="660" y="189" width="1" height="47" fill="#ff0000"/>
<rect x="658" y="205" width="5" height="14" fill="#ff0000"/>
<rect x="659" y="206" width="3" height="12" fill="#ff4500"/>
<rect x="668" y="189" width="1" height="68" fill="#32cd32"/>
<rect x="666" y="205" width="5" height="21" fill="#32cd32"/>
<rect x="676" y="218" width="1" height="38" fill="#32cd32"/>
<rect x="674" y="225" width="5" height="17" fill="#32cd32"/>
<rect x="684" y="244" width="1" height="35" fill="#ff0000"/>
<rect x="682" y="251" width="5" height="3" fill="#ff0000"/>
<rect x="683" y="252" width="3" height="1" fill="#ff4500"/>
<rect x="692" y="238" width="1" height="24" fill="#ff0000"/>
<rect x="690" y="244" width="5" height="8" fill="#ff0000"/>
<rect x="691" y="245" width="3" height="6" fill="#ff4500"/>
<rect x="700" y="209" width="1" height="36" fill="#ff0000"/>
<rect x="698" y="222" width="5" height="23" fill="#ff0000"/>
<rect x="699" y="223" width="3" height="21" fill="#ff4500"/>
<rect x="708" y="182" width="1" height="51" fill="#ff0000"/>
<rect x="706" y="193" width="5" height="30" fill="#ff0000"/>
<rect x="707" y="194" width="3" height="28" fill="#ff4500"/>
<rect x="716" y="165" width="1" height="30" fill="#ff0000"/>
<rect x="714" y="173" width="5" height="22" fill="#ff0000"/>
<rect x="715" y="174" width="3" height="20" fill="#ff4500"/>
<rect x="724" y="171" width="1" height="23" fill="#32cd32"/>
<rect x="722" y="174" width="5" height="7" fill="#32cd32"/>
<rect x="732" y="143" width="1" height="43" fill="#ff0000"/>
<rect x="730" y="165" width="5" height="16" fill="#ff0000"/>
<rect x="731" y="166" width="3" height="14" fill="#ff4500"/>
<rect x="740" y="138" width="1" height="33" fill="#ff0000"/>
<rect x="738" y="162" width="5" height="4" fill="#ff0000"/>
<rect x="739" y="163" width="3" height="2" fill="#ff4500"/>
<rect x="748" y="133" width="1" height="35" fill="#ff0000"/>
<rect x="746" y="140" width="5" height="24" fill="#ff0000"/>
<rect x="747" y="141" width="3" height="22" fill="#ff4500"/>
<rect x="756" y="124" width="1" height="30" fill="#ff0000"/>
<rect x="754" y="134" width="5" height="7" fill="#ff0000"/>
<rect x="755" y="135" width="3" height="5" fill="#ff4500"/>
<rect x="764" y="99" width="1" height="45" fill="#ff0000"/>
<rect x="762" y="114" width="5" height="19" fill="#ff0000"/>
<rect x="763" y="115" width="3" height="17" fill="#ff4500"/>
<rect x="772" y="96" width="1" height="23" fill="#32cd32"/>
<rect x="770" y="114" width="5" height="3" fill="#32cd32"/>
<rect x="780" y="110" width="1" height="78" fill="#32cd32"/>
<rect x="778" y="117" width="5" height="64" fill="#32cd32"/>
<rect x="788" y="178" width="1" height="29" fill="#32cd32"/>
<rect x="786" y="180" width="5" height="16" fill="#32cd32"/>
<rect x="796" y="185" width="1" height="37" fill="#ff0000"/>
<rect x="794" y="195" width="5" height="1" fill="#ff0000"/>
<rect x="804" y="193" width="1" height="50" fill="#32cd32"/>
<rect x="802" y="194" width="5" height="39" fill="#32cd32"/>
<rect x="812" y="232" width="1" height="39" fill="#32cd32"/>
<rect x="810" y="232" width="5" height="37" fill="#32cd32"/>
<rect x="820" y="226" width="1" height="47" fill="#ff0000"/>
<rect x="818" y="231" width="5" height="38" fill="#ff0000"/>
<rect x="819" y="232" width="3" height="36" fill="#ff4500"/>
<rect x="828" y="212" width="1" height="50" fill="#32cd32"/>
<rect x="826" y="230" width="5" height="22" fill="#32cd32"/>
<rect x="836" y="197" width="1" height="58" fill="#ff0000"/>
<rect x="834" y="199" width="5" height="53" fill="#ff0000"/>
<rect x="835" y="200" width="3" height="51" fill="#ff4500"/>
<rect x="844" y="189" width="1" height="49" fill="#32cd32"/>
<rect x="842" y="199" width="5" height="20" fill="#32cd32"/>
<rect x="852" y="208" width="1" height="58" fill="#32cd32"/>
<rect x="850" y="218" width="5" height="48" fill="#32cd32"/>
<rect x="860" y="232" width="1" height="37" fill="#ff0000"/>
<rect x="858" y="250" width="5" height="15" fill="#ff0000"/>
<rect x="859" y="251" width="3" height="13" fill="#ff4500"/>
<rect x="868" y="239" width="1" height="43" fill="#32cd32"/>
<rect x="866" y="249" width="5" height="7" fill="#32cd32"/>
<rect x="876" y="223" width="1" height="41" fill="#ff0000"/>
<rect x="874" y="242" width="5" height="15" fill="#ff0000"/>
<rect x="875" y="243" width="3" height="13" fill="#ff4500"/>
<rect x="884" y="211" width="1" height="37" fill="#ff0000"/>
<rect x="882" y="212" width="5" height="30" fill="#ff0000"/>
<rect x="883" y="213" width="3" height="28" fill="#ff4500"/>
<rect x="892" y="200" width="1" height="43" fill="#32cd32"/>
<rect x="890" y="211" width="5" height="31" fill="#32cd32"/>
<rect x="900" y="194" width="1" height="63" fill="#ff0000"/>
<rect x="898" y="215" width="5" height="26" fill="#ff0000"/>
<rect x="899" y="216" width="3" height="24" fill="#ff4500"/>
<rect x="908" y="191" width="1" height="51" fill="#ff0000"/>
<rect x="906" y="194" width="5" height="22" fill="#ff0000"/>
<rect x="907" y="195" width="3" height="20" fill="#ff4500"/>
<rect x="916" y="192" width="1" height="27" fill="#32cd32"/>
<rect x="914" y="194" width="5" height="12" fill="#32cd32"/>
</g>
<rect x="620" y="93" width="363" height="2" fill="#ff1c1c"/>
<rect x="623" y="175" width="355" height="2" fill="#8dc800"/>
<rect x="673" y="279" width="305" height="2" fill="#1e88e5"/>
<g clip-path="url(#cmacd)">
<rect x="3" y="457" width="3" height="26" fill="#c0c0c0"/>
<rect x="11" y="457" width="3" height="26" fill="#c0c0c0"/>
<rect x="19" y="457" width="3" height="26" fill="#c0c0c0"/>
<rect x="27" y="457" width="3" height="26" fill="#c0c0c0"/>
<rect x="35" y="457" width="3" height="25" fill="#c0c0c0"/>
<rect x="43" y="457" width="3" height="25" fill="#c0c0c0"/>
<rect x="51" y="457" width="3" height="23" fill="#c0c0c0"/>
<rect x="59" y="457" width="3" height="26" fill="#c0c0c0"/>
<rect x="67" y="457" width="3" height="30" fill="#c0c0c0"/>
<rect x="75" y="457" width="3" height="32" fill="#c0c0c0"/>
<rect x="83" y="457" width="3" height="34" fill="#c0c0c0"/>
<rect x="91" y="457" width="3" height="36" fill="#c0c0c0"/>
<rect x="99" y="457" width="3" height="36" fill="#c0c0c0"/>
<rect x="107" y="457" width="3" height="35" fill="#c0c0c0"/>
<rect x="115" y="457" width="3" height="33" fill="#c0c0c0"/>
<rect x="123" y="457" width="3" height="32" fill="#c0c0c0"/>
<rect x="131" y="457" width="3" height="30" fill="#c0c0c0"/>
<rect x="139" y="457" width="3" height="30" fill="#c0c0c0"/>
<rect x="147" y="457" width="3" height="32" fill="#c0c0c0"/>
<rect x="155" y="457" width="3" height="32" fill="#c0c0c0"/>
<rect x="163" y="457" width="3" height="32" fill="#c0c0c0"/>
<rect x="171" y="457" width="3" height="31" fill="#c0c0c0"/>
<rect x="179" y="457" width="3" height="29" fill="#c0c0c0"/>
<rect x="187" y="457" width="3" height="26" fill="#c0c0c0"/>
<rect x="195" y="457" width="3" height="22" fill="#c0c0c0"/>
<rect x="203" y="457" width="3" height="21" fill="#c0c0c0"/>
<rect x="211" y="457" width="3" height="19" fill="#c0c0c0"/>
<rect x="219" y="457" width="3" height="17" fill="#c0c0c0"/>
<rect x="227" y="457" width="3" height="13" fill="#c0c0c0"/>
<rect x="235" y="457" width="3" height="10" fill="#c0c0c0"/>
<rect x="243" y="457" width="3" height="6" fill="#c0c0c0"/>
<rect x="251" y="457" width="3" height="2" fill="#c0c0c0"/>
<rect x="259" y="456" width="3" height="1" fill="#c0c0c0"/>
<rect x="267" y="453" width="3" height="4" fill="#c0c0c0"/>
<rect x="275" y="450" width="3" height="7" fill="#c0c0c0"/>
<rect x="283" y="448" width="3" height="9" fill="#c0c0c0"/>
<rect x="291" y="446" width="3" height="11" fill="#c0c0c0"/>
<rect x="299" y="449" width="3" height="8" fill="#c0c0c0"/>
<rect x="307" y="450" width="3" height="7" fill="#c0c0c0"/>
<rect x="315" y="451" width="3" height="6" fill="#c0c0c0"/>
<rect x="323" y="450" width="3" height="7" fill="#c0c0c0"/>
<rect x="331" y="448" width="3" height="9" fill="#c0c0c0"/>
<rect x="339" y="445" width="3" height="12" fill="#c0c0c0"/>
<rect x="347" y="446" width="3" height="11" fill="#c0c0c0"/>
<rect x="355" y="448" width="3" height="9" fill="#c0c0c0"/>
<rect x="363" y="450" width="3" height="7" fill="#c0c0c0"/>
<rect x="371" y="453" width="3" height="4" fill="#c0c0c0"/>
<rect x="379" y="454" width="3" height="3" fill="#c0c0c0"/>
<rect x="387" y="454" width="3" height="3" fill="#c0c0c0"/>
<rect x="395" y="453" width="3" height="4" fill="#c0c0c0"/>
<rect x="403" y="450" width="3" height="7" fill="#c0c0c0"/>
<rect x="411" y="450" width="3" height="7" fill="#c0c0c0"/>
<rect x="419" y="449" width="3" height="8" fill="#c0c0c0"/>
<rect x="427" y="447" width="3" height="10" fill="#c0c0c0"/>
<rect x="435" y="447" width="3" height="10" fill="#c0c0c0"/>
<rect x="443" y="444" width="3" height="13" fill="#c0c0c0"/>
<rect x="451" y="440" width="3" height="17" fill="#c0c0c0"/>
<rect x="459" y="439" width="3" height="18" fill="#c0c0c0"/>
<rect x="467" y="439" width="3" height="18" fill="#c0c0c0"/>
<rect x="475" y="439" width="3" height="18" fill="#c0c0c0"/>
<rect x="483" y="439" width="3" height="18" fill="#c0c0c0"/>
<rect x="491" y="439" width="3" height="18" fill="#c0c0c0"/>
<rect x="499" y="440" width="3" height="17" fill="#c0c0c0"/>
<rect x="507" y="441" width="3" height="16" fill="#c0c0c0"/>
<rect x="515" y="442" width="3" height="15" fill="#c0c0c0"/>
<rect x="523" y="443" width="3" height="14" fill="#c0c0c0"/>
<rect x="531" y="444" width="3" height="13" fill="#c0c0c0"/>
<rect x="539" y="449" width="3" height="8" fill="#c0c0c0"/>
<rect x="547" y="452" width="3" height="5" fill="#c0c0c0"/>
<rect x="555" y="452" width="3" height="5" fill="#c0c0c0"/>
<rect x="563" y="451" width="3" height="6" fill="#c0c0c0"/>
<rect x="571" y="452" width="3" height="5" fill="#c0c0c0"/>
<rect x="579" y="449" width="3" height="8" fill="#c0c0c0"/>
<rect x="587" y="440" width="3" height="17" fill="#c0c0c0"/>
<rect x="595" y="437" width="3" height="20" fill="#c0c0c0"/>
<rect x="603" y="434" width="3" height="23" fill="#c0c0c0"/>
<rect x="611" y="433" width="3" height="24" fill="#c0c0c0"/>
<rect x="619" y="436" width="3" height="21" fill="#c0c0c0"/>
<rect x="627" y="439" width="3" height="18" fill="#c0c0c0"/>
<rect x="635" y="442" width="3" height="15" fill="#c0c0c0"/>
<rect x="643" y="444" width="3" height="13" fill="#c0c0c0"/>
<rect x="651" y="447" width="3" height="10" fill="#c0c0c0"/>
<rect x="659" y="450" width="3" height="7" fill="#c0c0c0"/>
<rect x="667" y="453" width="3" height="4" fill="#c0c0c0"/>
<rect x="675" y="456" width="3" height="1" fill="#c0c0c0"/>
<rect x="683" y="457" width="3" height="3" fill="#c0c0c0"/>
<rect x="691" y="457" width="3" height="5" fill="#c0c0c0"/>
<rect x="699" y="457" width="3" height="6" fill="#c0c0c0"/>
<rect x="707" y="457" width="3" height="4" fill="#c0c0c0"/>
<rect x="715" y="457" width="3" height="2" fill="#c0c0c0"/>
<rect x="723" y="456" width="3" height="1" fill="#c0c0c0"/>
<rect x="731" y="454" width="3" height="3" fill="#c0c0c0"/>
<rect x="739" y="452" width="3" height="5" fill="#c0c0c0"/>
<rect x="747" y="450" width="3" height="7" fill="#c0c0c0"/>
<rect x="755" y="447" width="3" height="10" fill="#c0c0c0"/>
<rect x="763" y="445" width="3" height="12" fill="#c0c0c0"/>
<rect x="771" y="443" width="3" height="14" fill="#c0c0c0"/>
<rect x="779" y="445" width="3" height="12" fill="#c0c0c0"/>
<rect x="787" y="448" width="3" height="9" fill="#c0c0c0"/>
<rect x="795" y="450" width="3" height="7" fill="#c0c0c0"/>
<rect x="803" y="454" width="3" height="3" fill="#c0c0c0"/>
<rect x="811" y="457" width="3" height="4" fill="#c0c0c0"/>
<rect x="819" y="457" width="3" height="6" fill="#c0c0c0"/>
<rect x="827" y="457" width="3" height="8" fill="#c0c0c0"/>
<rect x="835" y="457" width="3" height="7" fill="#c0c0c0"/>
<rect x="843" y="457" width="3" height="7" fill="#c0c0c0"/>
<rect x="851" y="457" width="3" height="10" fill="#c0c0c0"/>
<rect x="859" y="457" width="3" height="11" fill="#c0c0c0"/>
<rect x="867" y="457" width="3" height="13" fill="#c0c0c0"/>
<rect x="875" y="457" width="3" height="13" fill="#c0c0c0"/>
<rect x="883" y="457" width="3" height="11" fill="#c0c0c0"/>
<rect x="891" y="457" width="3" height="11" fill="#c0c0c0"/>
<rect x="899" y="457" width="3" height="9" fill="#c0c0c0"/>
<rect x="907" y="457" width="3" height="7" fill="#c0c0c0"/>
<rect x="915" y="457" width="3" height="5" fill="#c0c0c0"/>
</g>
<path d="M512 439h8v1h-8zM640 439h16v1h-16zM496 440h16v1h-16zM520 440h16v1h-16zM632 440h8v1h-8zM656 440h6v1h-6zM488 441h8v1h-8zM536 441h6v1h-6zM624 441h8v1h-8zM662 441h4v1h-4zM480 442h8v1h-8zM542 442h4v1h-4zM618 442h6v1h-6zM666 442h4v1h-4zM474 443h6v1h-6zM546 443h6v1h-6zM614 443h4v1h-4zM670 443h4v1h-4zM470 444h4v1h-4zM552 444h6v1h-6zM610 444h4v1h-4zM674 444h4v1h-4zM464 445h6v1h-6zM558 445h4v1h-4zM606 445h4v1h-4zM678 445h2v1h-2zM458 446h6v1h-6zM562 446h6v1h-6zM600 446h6v1h-6zM680 446h3v1h-3zM454 447h4v1h-4zM568 447h8v1h-8zM592 447h8v1h-8zM683 447h3v1h-3zM336 448h32v1h-32zM448 448h6v1h-6zM576 448h16v1h-16zM686 448h2v1h-2zM786 448h22v1h-22zM328 449h8v1h-8zM368 449h24v1h-24zM440 449h8v1h-8zM688 449h3v1h-3zM782 449h4v1h-4zM808 449h8v1h-8zM320 450h8v1h-8zM392 450h16v1h-16zM432 450h8v1h-8zM691 450h3v1h-3zM776 450h6v1h-6zM816 450h6v1h-6zM312 451h8v1h-8zM408 451h24v1h-24zM694 451h4v1h-4zM771 451h5v1h-5zM822 451h4v1h-4zM306 452h6v1h-6zM698 452h4v1h-4zM768 452h3v1h-3zM826 452h4v1h-4zM302 453h4v1h-4zM702 453h2v1h-2zM766 453h2v1h-2zM830 453h4v1h-4zM298 454h4v1h-4zM704 454h3v1h-3zM760 454h6v1h-6zM834 454h4v1h-4zM294 455h4v1h-4zM707 455h5v1h-5zM754 455h6v1h-6zM838 455h4v1h-4zM291 456h3v1h-3zM712 456h8v1h-8zM750 456h4v1h-4zM842 456h4v1h-4zM288 457h3v1h-3zM720 457h8v1h-8zM736 457h14v1h-14zM846 457h2v1h-2zM286 458h2v1h-2zM728 458h8v1h-8zM848 458h3v1h-3zM283 459h3v1h-3zM851 459h3v1h-3zM280 460h3v1h-3zM854 460h4v1h-4zM278 461h2v1h-2zM858 461h4v1h-4zM275 462h3v1h-3zM862 462h4v1h-4zM273 463h2v1h-2zM866 463h4v1h-4zM271 464h2v1h-2zM870 464h4v1h-4zM269 465h2v1h-2zM874 465h6v1h-6zM266 466h3v1h-3zM880 466h37v1h-37zM262 467h4v1h-4zM259 468h3v1h-3zM256 469h3v1h-3zM254 470h2v1h-2zM251 471h3v1h-3zM248 472h3v1h-3zM246 473h2v1h-2zM243 474h3v1h-3zM240 475h3v1h-3zM238 476h2v1h-2zM235 477h3v1h-3zM232 478h3v1h-3zM230 479h2v1h-2zM226 480h4v1h-4zM222 481h4v1h-4zM4 482h4v1h-4zM48 482h24v1h-24zM218 482h4v1h-4zM8 483h40v1h-40zM72 483h8v1h-8zM214 483h4v1h-4zM80 484h8v1h-8zM208 484h6v1h-6zM88 485h8v1h-8zM200 485h8v1h-8zM96 486h8v1h-8zM192 486h8v1h-8zM104 487h8v1h-8zM184 487h8v1h-8zM112 488h8v1h-8zM176 488h8v1h-8zM120 489h8v1h-8zM160 489h16v1h-16zM128 490h32v1h-32z" fill="#ff0000"/>
<path d="M588 525h1v1h-1zM587 526h1v1h-1zM589 526h2v1h-2zM451 527h2v1h-2zM586 527h1v1h-1zM591 527h1v1h-1zM449 528h2v1h-2zM453 528h1v1h-1zM584 528h2v1h-2zM592 528h2v1h-2zM447 529h2v1h-2zM454 529h1v1h-1zM583 529h1v1h-1zM594 529h2v1h-2zM445 530h2v1h-2zM455 530h1v1h-1zM582 530h1v1h-1zM596 530h4v1h-4zM762 530h11v1h-11zM339 531h2v1h-2zM444 531h1v1h-1zM456 531h2v1h-2zM581 531h1v1h-1zM600 531h6v1h-6zM758 531h4v1h-4zM773 531h1v1h-1zM274 532h6v1h-6zM288 532h5v1h-5zM336 532h3v1h-3zM341 532h1v1h-1zM442 532h2v1h-2zM458 532h1v1h-1zM580 532h1v1h-1zM606 532h2v1h-2zM752 532h6v1h-6zM773 532h1v1h-1zM270 533h4v1h-4zM280 533h8v1h-8zM293 533h1v1h-1zM334 533h2v1h-2zM342 533h1v1h-1zM440 533h2v1h-2zM459 533h1v1h-1zM488 533h6v1h-6zM579 533h1v1h-1zM608 533h3v1h-3zM747 533h5v1h-5zM774 533h1v1h-1zM248 534h6v1h-6zM267 534h3v1h-3zM293 534h1v1h-1zM332 534h2v1h-2zM343 534h1v1h-1zM424 534h6v1h-6zM439 534h1v1h-1zM460 534h12v1h-12zM480 534h8v1h-8zM494 534h2v1h-2zM578 534h1v1h-1zM611 534h2v1h-2zM744 534h3v1h-3zM775 534h1v1h-1zM243 535h5v1h-5zM254 535h2v1h-2zM264 535h3v1h-3zM294 535h1v1h-1zM330 535h2v1h-2zM344 535h1v1h-1zM416 535h8v1h-8zM430 535h4v1h-4zM437 535h2v1h-2zM472 535h8v1h-8zM496 535h3v1h-3zM520 535h5v1h-5zM578 535h1v1h-1zM613 535h1v1h-1zM742 535h2v1h-2zM775 535h1v1h-1zM241 536h2v1h-2zM256 536h3v1h-3zM262 536h2v1h-2zM295 536h1v1h-1zM328 536h2v1h-2zM345 536h1v1h-1zM402 536h14v1h-14zM434 536h3v1h-3zM499 536h5v1h-5zM512 536h8v1h-8zM525 536h2v1h-2zM577 536h1v1h-1zM614 536h2v1h-2zM730 536h12v1h-12zM776 536h1v1h-1zM239 537h2v1h-2zM259 537h3v1h-3zM295 537h1v1h-1zM327 537h1v1h-1zM346 537h1v1h-1zM398 537h4v1h-4zM504 537h8v1h-8zM527 537h2v1h-2zM562 537h3v1h-3zM576 537h1v1h-1zM616 537h1v1h-1zM715 537h5v1h-5zM726 537h4v1h-4zM777 537h1v1h-1zM228 538h4v1h-4zM237 538h2v1h-2zM296 538h1v1h-1zM325 538h2v1h-2zM347 538h1v1h-1zM395 538h3v1h-3zM529 538h2v1h-2zM558 538h4v1h-4zM565 538h2v1h-2zM575 538h1v1h-1zM617 538h1v1h-1zM712 538h3v1h-3zM720 538h6v1h-6zM777 538h1v1h-1zM226 539h2v1h-2zM232 539h5v1h-5zM297 539h1v1h-1zM322 539h3v1h-3zM348 539h2v1h-2zM392 539h3v1h-3zM531 539h2v1h-2zM556 539h2v1h-2zM567 539h1v1h-1zM574 539h1v1h-1zM618 539h2v1h-2zM710 539h2v1h-2zM778 539h1v1h-1zM907 539h5v1h-5zM224 540h2v1h-2zM297 540h1v1h-1zM318 540h4v1h-4zM350 540h2v1h-2zM390 540h2v1h-2zM533 540h1v1h-1zM555 540h1v1h-1zM568 540h2v1h-2zM574 540h1v1h-1zM620 540h10v1h-10zM707 540h3v1h-3zM779 540h1v1h-1zM904 540h3v1h-3zM912 540h5v1h-5zM223 541h1v1h-1zM298 541h1v1h-1zM312 541h6v1h-6zM352 541h3v1h-3zM384 541h6v1h-6zM534 541h1v1h-1zM554 541h1v1h-1zM570 541h2v1h-2zM573 541h1v1h-1zM630 541h4v1h-4zM640 541h5v1h-5zM705 541h2v1h-2zM779 541h1v1h-1zM884 541h1v1h-1zM902 541h2v1h-2zM195 542h2v1h-2zM221 542h2v1h-2zM299 542h1v1h-1zM306 542h6v1h-6zM355 542h5v1h-5zM379 542h5v1h-5zM534 542h1v1h-1zM552 542h2v1h-2zM572 542h1v1h-1zM634 542h6v1h-6zM645 542h2v1h-2zM703 542h2v1h-2zM780 542h2v1h-2zM836 542h2v1h-2zM882 542h2v1h-2zM885 542h2v1h-2zM899 542h3v1h-3zM192 543h3v1h-3zM197 543h2v1h-2zM216 543h5v1h-5zM299 543h1v1h-1zM302 543h4v1h-4zM360 543h6v1h-6zM377 543h2v1h-2zM535 543h1v1h-1zM551 543h1v1h-1zM647 543h2v1h-2zM658 543h4v1h-4zM701 543h2v1h-2zM782 543h4v1h-4zM835 543h1v1h-1zM838 543h4v1h-4zM880 543h2v1h-2zM887 543h2v1h-2zM896 543h3v1h-3zM180 544h4v1h-4zM190 544h2v1h-2zM199 544h2v1h-2zM210 544h6v1h-6zM300 544h2v1h-2zM366 544h2v1h-2zM375 544h2v1h-2zM536 544h1v1h-1zM550 544h1v1h-1zM649 544h2v1h-2zM654 544h4v1h-4zM662 544h4v1h-4zM699 544h2v1h-2zM786 544h11v1h-11zM834 544h1v1h-1zM842 544h3v1h-3zM879 544h1v1h-1zM889 544h2v1h-2zM894 544h2v1h-2zM178 545h2v1h-2zM184 545h6v1h-6zM201 545h2v1h-2zM206 545h4v1h-4zM368 545h3v1h-3zM373 545h2v1h-2zM537 545h1v1h-1zM549 545h1v1h-1zM651 545h3v1h-3zM666 545h4v1h-4zM696 545h3v1h-3zM797 545h2v1h-2zM832 545h2v1h-2zM845 545h2v1h-2zM877 545h2v1h-2zM891 545h3v1h-3zM177 546h1v1h-1zM203 546h3v1h-3zM371 546h2v1h-2zM538 546h1v1h-1zM547 546h2v1h-2zM670 546h4v1h-4zM694 546h2v1h-2zM799 546h2v1h-2zM831 546h1v1h-1zM847 546h1v1h-1zM874 546h3v1h-3zM52 547h1v1h-1zM176 547h1v1h-1zM538 547h1v1h-1zM544 547h3v1h-3zM674 547h6v1h-6zM688 547h6v1h-6zM801 547h2v1h-2zM820 547h2v1h-2zM830 547h1v1h-1zM848 547h2v1h-2zM858 547h6v1h-6zM870 547h4v1h-4zM51 548h1v1h-1zM53 548h1v1h-1zM174 548h2v1h-2zM539 548h1v1h-1zM542 548h2v1h-2zM680 548h8v1h-8zM803 548h2v1h-2zM818 548h2v1h-2zM822 548h4v1h-4zM829 548h1v1h-1zM850 548h2v1h-2zM854 548h4v1h-4zM864 548h6v1h-6zM50 549h1v1h-1zM53 549h1v1h-1zM122 549h3v1h-3zM173 549h1v1h-1zM540 549h2v1h-2zM805 549h2v1h-2zM817 549h1v1h-1zM826 549h3v1h-3zM852 549h2v1h-2zM34 550h3v1h-3zM48 550h2v1h-2zM54 550h1v1h-1zM118 550h4v1h-4zM125 550h2v1h-2zM172 550h1v1h-1zM807 550h1v1h-1zM816 550h1v1h-1zM4 551h2v1h-2zM30 551h4v1h-4zM37 551h2v1h-2zM47 551h1v1h-1zM55 551h1v1h-1zM108 551h10v1h-10zM127 551h2v1h-2zM170 551h2v1h-2zM808 551h2v1h-2zM814 551h2v1h-2zM6 552h4v1h-4zM16 552h14v1h-14zM39 552h2v1h-2zM46 552h1v1h-1zM56 552h1v1h-1zM107 552h1v1h-1zM129 552h2v1h-2zM169 552h1v1h-1zM810 552h2v1h-2zM813 552h1v1h-1zM10 553h6v1h-6zM41 553h2v1h-2zM45 553h1v1h-1zM56 553h1v1h-1zM106 553h1v1h-1zM131 553h10v1h-10zM168 553h1v1h-1zM812 553h1v1h-1zM43 554h2v1h-2zM57 554h1v1h-1zM104 554h2v1h-2zM141 554h2v1h-2zM155 554h3v1h-3zM166 554h2v1h-2zM58 555h1v1h-1zM103 555h1v1h-1zM143 555h1v1h-1zM153 555h2v1h-2zM158 555h4v1h-4zM165 555h1v1h-1zM59 556h1v1h-1zM83 556h3v1h-3zM102 556h1v1h-1zM144 556h2v1h-2zM151 556h2v1h-2zM162 556h3v1h-3zM59 557h1v1h-1zM81 557h2v1h-2zM86 557h4v1h-4zM101 557h1v1h-1zM146 557h2v1h-2zM149 557h2v1h-2zM60 558h10v1h-10zM79 558h2v1h-2zM90 558h11v1h-11zM148 558h1v1h-1zM70 559h4v1h-4zM77 559h2v1h-2zM74 560h3v1h-3z" fill="#1e90ff"/>
<rect x="5" y="525" width="3" height="1" fill="#c0c0c0"/>
<rect x="11" y="525" width="3" height="1" fill="#c0c0c0"/>
<rect x="17" y="525" width="3" height="1" fill="#c0c0c0"/>
<rect x="23" y="525" width="3" height="1" fill="#c0c0c0"/>
<rect x="29" y="525" width="3" height="1" fill="#c0c0c0"/>
<rect x="35" y="525" width="3" height="1" fill="#c0c0c0"/>
<rect x="41" y="525" width="3" height="1" fill="#c0c0c0"/>
<rect x="47" y="525" width="3" height="1" fill="#c0c0c0"/>
<rect x="53" y="525" width="3" height="1" fill="#c0c0c0"/>
<rect x="59" y="525" width="3" height="1" fill="#c0c0c0"/>
<rect x="65" y="525" width="3" height="1" fill="#c0c0c0"/>
<rect x="71" y="525" width="3" height="1" fill="#c0c0c0"/>
<rect x="77" y="525" width="3" height="1" fill="#c0c0c0"/>
<rect x="83" y="525" width="3" height="1" fill="#c0c0c0"/>
<rect x="89" y="525" width="3" height="1" fill="#c0c0c0"/>
<rect x="95" y="525" width="3" height="1" fill="#c0c0c0"/>
<rect x="101" y="525" width="3" height="1" fill="#c0c0c0"/>
<rect x="107" y="525" width="3" height="1" fill="#c0c0c0"/>
<rect x="113" y="525" width="3" height="1" fill="#c0c0c0"/>
<rect x="119" y="525" width="3" height="1" fill="#c0c0c0"/>
<rect x="125" y="525" width="3" height="1" fill="#c0c0c0"/>
<rect x="131" y="525" width="3" height="1" fill="#c0c0c0"/>
<rect x="137" y="525" width="3" height="1" fill="#c0c0c0"/>
<rect x="143" y="525" width="3" height="1" fill="#c0c0c0"/>
<rect x="149" y="525" width="3" height="1" fill="#c0c0c0"/>
<rect x="155" y="525" width="3" height="1" fill="#c0c0c0"/>
<rect x="161" y="525" width="3" height="1" fill="#c0c0c0"/>
<rect x="167" y="525" width="3" height="1" fill="#c0c0c0"/>
<rect x="173" y="525" width="3" height="1" fill="#c0c0c0"/>
<rect x="179" y="525" width="3" height="1" fill="#c0c0c0"/>
<rect x="185" y="525" width="3" height="1" fill="#c0c0c0"/>
<rect x="191" y="525" width="3" height="1" fill="#c0c0c0"/>
<rect x="197" y="525" width="3" height="1" fill="#c0c0c0"/>
<rect x="203" y="525" width="3" height="1" fill="#c0c0c0"/>
<rect x="209" y="525" width="3" height="1" fill="#c0c0c0"/>
<rect x="215" y="525" width="3" height="1" fill="#c0c0c0"/>
<rect x="221" y="525" width="3" height="1" fill="#c0c0c0"/>
<rect x="227" y="525" width="3" height="1" fill="#c0c0c0"/>
<rect x="233" y="525" width="3" height="1" fill="#c0c0c0"/>
<rect x="239" y="525" width="3" height="1" fill="#c0c0c0"/>
<rect x="245" y="525" width="3" height="1" fill="#c0c0c0"/>
<rect x="251" y="525" width="3" height="1" fill="#c0c0c0"/>
<rect x="257" y="525" width="3" height="1" fill="#c0c0c0"/>
<rect x="263" y="525" width="3" height="1" fill="#c0c0c0"/>
<rect x="269" y="525" width="3" height="1" fill="#c0c0c0"/>
<rect x="275" y="525" width="3" height="1" fill="#c0c0c0"/>
<rect x="281" y="525" width="3" height="1" fill="#c0c0c0"/>
<rect x="287" y="525" width="3" height="1" fill="#c0c0c0"/>
<rect x="293" y="525" width="3" height="1" fill="#c0c0c0"/>
<rect x="299" y="525" width="3" height="1" fill="#c0c0c0"/>
<rect x="305" y="525" width="3" height="1" fill="#c0c0c0"/>
<rect x="311" y="525" width="3" height="1" fill="#c0c0c0"/>
<rect x="317" y="525" width="3" height="1" fill="#c0c0c0"/>
<rect x="323" y="525" width="3" height="1" fill="#c0c0c0"/>
<rect x="329" y="525" width="3" height="1" fill="#c0c0c0"/>
<rect x="335" y="525" width="3" height="1" fill="#c0c0c0"/>
<rect x="341" y="525" width="3" height="1" fill="#c0c0c0"/>
<rect x="347" y="525" width="3" height="1" fill="#c0c0c0"/>
<rect x="353" y="525" width="3" height="1" fill="#c0c0c0"/>
<rect x="359" y="525" width="3" height="1" fill="#c0c0c0"/>
<rect x="365" y="525" width="3" height="1" fill="#c0c0c0"/>
<rect x="371" y="525" width="3" height="1" fill="#c0c0c0"/>
<rect x="377" y="525" width="3" height="1" fill="#c0c0c0"/>
<rect x="383" y="525" width="3" height="1" fill="#c0c0c0"/>
<rect x="389" y="525" width="3" height="1" fill="#c0c0c0"/>
<rect x="395" y="525" width="3" height="1" fill="#c0c0c0"/>
<rect x="401" y="525" width="3" height="1" fill="#c0c0c0"/>
<rect x="407" y="525" width="3" height="1" fill="#c0c0c0"/>
<rect x="413" y="525" width="3" height="1" fill="#c0c0c0"/>
<rect x="419" y="525" width="3" height="1" fill="#c0c0c0"/>
<rect x="425" y="525" width="3" height="1" fill="#c0c0c0"/>
<rect x="431" y="525" width="3" height="1" fill="#c0c0c0"/>
<rect x="437" y="525" width="3" height="1" fill="#c0c0c0"/>
<rect x="443" y="525" width="3" height="1" fill="#c0c0c0"/>
<rect x="449" y="525" width="3" height="1" fill="#c0c0c0"/>
<rect x="455" y="525" width="3" height="1" fill="#c0c0c0"/>
<rect x="461" y="525" width="3" height="1" fill="#c0c0c0"/>
<rect x="467" y="525" width="3" height="1" fill="#c0c0c0"/>
<rect x="473" y="525" width="3" height="1" fill="#c0c0c0"/>
<rect x="479" y="525" width="3" height="1" fill="#c0c0c0"/>
<rect x="485" y="525" width="3" height="1" fill="#c0c0c0"/>
<rect x="491" y="525" width="3" height="1" fill="#c0c0c0"/>
<rect x="497" y="525" width="3" height="1" fill="#c0c0c0"/>
<rect x="503" y="525" width="3" height="1" fill="#c0c0c0"/>
<rect x="509" y="525" width="3" height="1" fill="#c0c0c0"/>
<rect x="515" y="525" width="3" height="1" fill="#c0c0c0"/>
<rect x="521" y="525" width="3" height="1" fill="#c0c0c0"/>
<rect x="527" y="525" width="3" height="1" fill="#c0c0c0"/>
<rect x="533" y="525" width="3" height="1" fill="#c0c0c0"/>
<rect x="539" y="525" width="3" height="1" fill="#c0c0c0"/>
<rect x="545" y="525" width="3" height="1" fill="#c0c0c0"/>
<rect x="551" y="525" width="3" height="1" fill="#c0c0c0"/>
<rect x="557" y="525" width="3" height="1" fill="#c0c0c0"/>
<rect x="563" y="525" width="3" height="1" fill="#c0c0c0"/>
<rect x="569" y="525" width="3" height="1" fill="#c0c0c0"/>
<rect x="575" y="525" width="3" height="1" fill="#c0c0c0"/>
<rect x="581" y="525" width="3" height="1" fill="#c0c0c0"/>
<rect x="587" y="525" width="3" height="1" fill="#c0c0c0"/>
<rect x="593" y="525" width="3" height="1" fill="#c0c0c0"/>
<rect x="599" y="525" width="3" height="1" fill="#c0c0c0"/>
<rect x="605" y="525" width="3" height="1" fill="#c0c0c0"/>
<rect x="611" y="525" width="3" height="1" fill="#c0c0c0"/>
<rect x="617" y="525" width="3" height="1" fill="#c0c0c0"/>
<rect x="623" y="525" width="3" height="1" fill="#c0c0c0"/>
<rect x="629" y="525" width="3" height="1" fill="#c0c0c0"/>
<rect x="635" y="525" width="3" height="1" fill="#c0c0c0"/>
<rect x="641" y="525" width="3" height="1" fill="#c0c0c0"/>
<rect x="647" y="525" width="3" height="1" fill="#c0c0c0"/>
<rect x="653" y="525" width="3" height="1" fill="#c0c0c0"/>
<rect x="659" y="525" width="3" height="1" fill="#c0c0c0"/>
<rect x="665" y="525" width="3" height="1" fill="#c0c0c0"/>
<rect x="671" y="525" width="3" height="1" fill="#c0c0c0"/>
<rect x="677" y="525" width="3" height="1" fill="#c0c0c0"/>
<rect x="683" y="525" width="3" height="1" fill="#c0c0c0"/>
<rect x="689" y="525" width="3" height="1" fill="#c0c0c0"/>
<rect x="695" y="525" width="3" height="1" fill="#c0c0c0"/>
<rect x="701" y="525" width="3" height="1" fill="#c0c0c0"/>
<rect x="707" y="525" width="3" height="1" fill="#c0c0c0"/>
<rect x="713" y="525" width="3" height="1" fill="#c0c0c0"/>
<rect x="719" y="525" width="3" height="1" fill="#c0c0c0"/>
<rect x="725" y="525" width="3" height="1" fill="#c0c0c0"/>
<rect x="731" y="525" width="3" height="1" fill="#c0c0c0"/>
<rect x="737" y="525" width="3" height="1" fill="#c0c0c0"/>
<rect x="743" y="525" width="3" height="1" fill="#c0c0c0"/>
<rect x="749" y="525" width="3" height="1" fill="#c0c0c0"/>
<rect x="755" y="525" width="3" height="1" fill="#c0c0c0"/>
<rect x="761" y="525" width="3" height="1" fill="#c0c0c0"/>
<rect x="767" y="525" width="3" height="1" fill="#c0c0c0"/>
<rect x="773" y="525" width="3" height="1" fill="#c0c0c0"/>
<rect x="779" y="525" width="3" height="1" fill="#c0c0c0"/>
<rect x="785" y="525" width="3" height="1" fill="#c0c0c0"/>
<rect x="791" y="525" width="3" height="1" fill="#c0c0c0"/>
<rect x="797" y="525" width="3" height="1" fill="#c0c0c0"/>
<rect x="803" y="525" width="3" height="1" fill="#c0c0c0"/>
<rect x="809" y="525" width="3" height="1" fill="#c0c0c0"/>
<rect x="815" y="525" width="3" height="1" fill="#c0c0c0"/>
<rect x="821" y="525" width="3" height="1" fill="#c0c0c0"/>
<rect x="827" y="525" width="3" height="1" fill="#c0c0c0"/>
<rect x="833" y="525" width="3" height="1" fill="#c0c0c0"/>
<rect x="839" y="525" width="3" height="1" fill="#c0c0c0"/>
<rect x="845" y="525" width="3" height="1" fill="#c0c0c0"/>
<rect x="851" y="525" width="3" height="1" fill="#c0c0c0"/>
<rect x="857" y="525" width="3" height="1" fill="#c0c0c0"/>
<rect x="863" y="525" width="3" height="1" fill="#c0c0c0"/>
<rect x="869" y="525" width="3" height="1" fill="#c0c0c0"/>
<rect x="875" y="525" width="3" height="1" fill="#c0c0c0"/>
<rect x="881" y="525" width="3" height="1" fill="#c0c0c0"/>
<rect x="887" y="525" width="3" height="1" fill="#c0c0c0"/>
<rect x="893" y="525" width="3" height="1" fill="#c0c0c0"/>
<rect x="899" y="525" width="3" height="1" fill="#c0c0c0"/>
<rect x="905" y="525" width="3" height="1" fill="#c0c0c0"/>
<rect x="911" y="525" width="3" height="1" fill="#c0c0c0"/>
<rect x="917" y="525" width="3" height="1" fill="#c0c0c0"/>
<rect x="923" y="525" width="3" height="1" fill="#c0c0c0"/>
<rect x="929" y="525" width="3" height="1" fill="#c0c0c0"/>
<rect x="935" y="525" width="3" height="1" fill="#c0c0c0"/>
<rect x="941" y="525" width="3" height="1" fill="#c0c0c0"/>
<rect x="947" y="525" width="3" height="1" fill="#c0c0c0"/>
<rect x="953" y="525" width="3" height="1" fill="#c0c0c0"/>
<rect x="959" y="525" width="3" height="1" fill="#c0c0c0"/>
<rect x="965" y="525" width="3" height="1" fill="#c0c0c0"/>
<rect x="971" y="525" width="3" height="1" fill="#c0c0c0"/>
<rect x="977" y="525" width="3" height="1" fill="#c0c0c0"/>
<rect x="983" y="525" width="3" height="1" fill="#c0c0c0"/>
<rect x="989" y="525" width="3" height="1" fill="#c0c0c0"/>
<rect x="995" y="525" width="3" height="1" fill="#c0c0c0"/>
<rect x="1001" y="525" width="3" height="1" fill="#c0c0c0"/>
<rect x="1007" y="525" width="3" height="1" fill="#c0c0c0"/>
<rect x="1013" y="525" width="3" height="1" fill="#c0c0c0"/>
<rect x="1019" y="525" width="3" height="1" fill="#c0c0c0"/>
<rect x="1025" y="525" width="3" height="1" fill="#c0c0c0"/>
<rect x="1031" y="525" width="3" height="1" fill="#c0c0c0"/>
<rect x="1037" y="525" width="3" height="1" fill="#c0c0c0"/>
<rect x="1043" y="525" width="3" height="1" fill="#c0c0c0"/>
<rect x="1049" y="525" width="3" height="1" fill="#c0c0c0"/>
<rect x="1055" y="525" width="3" height="1" fill="#c0c0c0"/>
<rect x="1061" y="525" width="3" height="1" fill="#c0c0c0"/>
<rect x="1067" y="525" width="3" height="1" fill="#c0c0c0"/>
<rect x="1073" y="525" width="3" height="1" fill="#c0c0c0"/>
<rect x="1079" y="525" width="3" height="1" fill="#c0c0c0"/>
<rect x="1085" y="525" width="3" height="1" fill="#c0c0c0"/>
<rect x="1091" y="525" width="3" height="1" fill="#c0c0c0"/>
<rect x="1097" y="525" width="3" height="1" fill="#c0c0c0"/>
<rect x="1103" y="525" width="3" height="1" fill="#c0c0c0"/>
<rect x="1109" y="525" width="3" height="1" fill="#c0c0c0"/>
<rect x="1115" y="525" width="3" height="1" fill="#c0c0c0"/>
<rect x="1121" y="525" width="3" height="1" fill="#c0c0c0"/>
<rect x="1127" y="525" width="3" height="1" fill="#c0c0c0"/>
<rect x="1133" y="525" width="3" height="1" fill="#c0c0c0"/>
<rect x="1139" y="525" width="3" height="1" fill="#c0c0c0"/>
<rect x="1145" y="525" width="3" height="1" fill="#c0c0c0"/>
<rect x="1151" y="525" width="3" height="1" fill="#c0c0c0"/>
<rect x="1157" y="525" width="3" height="1" fill="#c0c0c0"/>
<rect x="1163" y="525" width="3" height="1" fill="#c0c0c0"/>
<rect x="5" y="558" width="3" height="1" fill="#c0c0c0"/>
<rect x="11" y="558" width="3" height="1" fill="#c0c0c0"/>
<rect x="17" y="558" width="3" height="1" fill="#c0c0c0"/>
<rect x="23" y="558" width="3" height="1" fill="#c0c0c0"/>
<rect x="29" y="558" width="3" height="1" fill="#c0c0c0"/>
<rect x="35" y="558" width="3" height="1" fill="#c0c0c0"/>
<rect x="41" y="558" width="3" height="1" fill="#c0c0c0"/>
<rect x="47" y="558" width="3" height="1" fill="#c0c0c0"/>
<rect x="53" y="558" width="3" height="1" fill="#c0c0c0"/>
<rect x="59" y="558" width="3" height="1" fill="#c0c0c0"/>
<rect x="65" y="558" width="3" height="1" fill="#c0c0c0"/>
<rect x="71" y="558" width="3" height="1" fill="#c0c0c0"/>
<rect x="77" y="558" width="3" height="1" fill="#c0c0c0"/>
<rect x="83" y="558" width="3" height="1" fill="#c0c0c0"/>
<rect x="89" y="558" width="3" height="1" fill="#c0c0c0"/>
<rect x="95" y="558" width="3" height="1" fill="#c0c0c0"/>
<rect x="101" y="558" width="3" height="1" fill="#c0c0c0"/>
<rect x="107" y="558" width="3" height="1" fill="#c0c0c0"/>
<rect x="113" y="558" width="3" height="1" fill="#c0c0c0"/>
<rect x="119" y="558" width="3" height="1" fill="#c0c0c0"/>
<rect x="125" y="558" width="3" height="1" fill="#c0c0c0"/>
<rect x="131" y="558" width="3" height="1" fill="#c0c0c0"/>
<rect x="137" y="558" width="3" height="1" fill="#c0c0c0"/>
<rect x="143" y="558" width="3" height="1" fill="#c0c0c0"/>
<rect x="149" y="558" width="3" height="1" fill="#c0c0c0"/>
<rect x="155" y="558" width="3" height="1" fill="#c0c0c0"/>
<rect x="161" y="558" width="3" height="1" fill="#c0c0c0"/>
<rect x="167" y="558" width="3" height="1" fill="#c0c0c0"/>
<rect x="173" y="558" width="3" height="1" fill="#c0c0c0"/>
<rect x="179" y="558" width="3" height="1" fill="#c0c0c0"/>
<rect x="185" y="558" width="3" height="1" fill="#c0c0c0"/>
<rect x="191" y="558" width="3" height="1" fill="#c0c0c0"/>
<rect x="197" y="558" width="3" height="1" fill="#c0c0c0"/>
<rect x="203" y="558" width="3" height="1" fill="#c0c0c0"/>
<rect x="209" y="558" width="3" height="1" fill="#c0c0c0"/>
<rect x="215" y="558" width="3" height="1" fill="#c0c0c0"/>
<rect x="221" y="558" width="3" height="1" fill="#c0c0c0"/>
<rect x="227" y="558" width="3" height="1" fill="#c0c0c0"/>
<rect x="233" y="558" width="3" height="1" fill="#c0c0c0"/>
<rect x="239" y="558" width="3" height="1" fill="#c0c0c0"/>
<rect x="245" y="558" width="3" height="1" fill="#c0c0c0"/>
<rect x="251" y="558" width="3" height="1" fill="#c0c0c0"/>
<rect x="257" y="558" width="3" height="1" fill="#c0c0c0"/>
<rect x="263" y="558" width="3" height="1" fill="#c0c0c0"/>
<rect x="269" y="558" width="3" height="1" fill="#c0c0c0"/>
<rect x="275" y="558" width="3" height="1" fill="#c0c0c0"/>
<rect x="281" y="558" width="3" height="1" fill="#c0c0c0"/>
<rect x="287" y="558" width="3" height="1" fill="#c0c0c0"/>
<rect x="293" y="558" width="3" height="1" fill="#c0c0c0"/>
<rect x="299" y="558" width="3" height="1" fill="#c0c0c0"/>
<rect x="305" y="558" width="3" height="1" fill="#c0c0c0"/>
<rect x="311" y="558" width="3" height="1" fill="#c0c0c0"/>
<rect x="317" y="558" width="3" height="1" fill="#c0c0c0"/>
<rect x="323" y="558" width="3" height="1" fill="#c0c0c0"/>
<rect x="329" y="558" width="3" height="1" fill="#c0c0c0"/>
<rect x="335" y="558" width="3" height="1" fill="#c0c0c0"/>
<rect x="341" y="558" width="3" height="1" fill="#c0c0c0"/>
<rect x="347" y="558" width="3" height="1" fill="#c0c0c0"/>
<rect x="353" y="558" width="3" height="1" fill="#c0c0c0"/>
<rect x="359" y="558" width="3" height="1" fill="#c0c0c0"/>
<rect x="365" y="558" width="3" height="1" fill="#c0c0c0"/>
<rect x="371" y="558" width="3" height="1" fill="#c0c0c0"/>
<rect x="377" y="558" width="3" height="1" fill="#c0c0c0"/>
<rect x="383" y="558" width="3" height="1" fill="#c0c0c0"/>
<rect x="389" y="558" width="3" height="1" fill="#c0c0c0"/>
<rect x="395" y="558" width="3" height="1" fill="#c0c0c0"/>
<rect x="401" y="558" width="3" height="1" fill="#c0c0c0"/>
<rect x="407" y="558" width="3" height="1" fill="#c0c0c0"/>
<rect x="413" y="558" width="3" height="1" fill="#c0c0c0"/>
<rect x="419" y="558" width="3" height="1" fill="#c0c0c0"/>
<rect x="425" y="558" width="3" height="1" fill="#c0c0c0"/>
<rect x="431" y="558" width="3" height="1" fill="#c0c0c0"/>
<rect x="437" y="558" width="3" height="1" fill="#c0c0c0"/>
<rect x="443" y="558" width="3" height="1" fill="#c0c0c0"/>
<rect x="449" y="558" width="3" height="1" fill="#c0c0c0"/>
<rect x="455" y="558" width="3" height="1" fill="#c0c0c0"/>
<rect x="461" y="558" width="3" height="1" fill="#c0c0c0"/>
<rect x="467" y="558" width="3" height="1" fill="#c0c0c0"/>
<rect x="473" y="558" width="3" height="1" fill="#c0c0c0"/>
<rect x="479" y="558" width="3" height="1" fill="#c0c0c0"/>
<rect x="485" y="558" width="3" height="1" fill="#c0c0c0"/>
<rect x="491" y="558" width="3" height="1" fill="#c0c0c0"/>
<rect x="497" y="558" width="3" height="1" fill="#c0c0c0"/>
<rect x="503" y="558" width="3" height="1" fill="#c0c0c0"/>
<rect x="509" y="558" width="3" height="1" fill="#c0c0c0"/>
<rect x="515" y="558" width="3" height="1" fill="#c0c0c0"/>
<rect x="521" y="558" width="3" height="1" fill="#c0c0c0"/>
<rect x="527" y="558" width="3" height="1" fill="#c0c0c0"/>
<rect x="533" y="558" width="3" height="1" fill="#c0c0c0"/>
<rect x="539" y="558" width="3" height="1" fill="#c0c0c0"/>
<rect x="545" y="558" width="3" height="1" fill="#c0c0c0"/>
<rect x="551" y="558" width="3" height="1" fill="#c0c0c0"/>
<rect x="557" y="558" width="3" height="1" fill="#c0c0c0"/>
<rect x="563" y="558" width="3" height="1" fill="#c0c0c0"/>
<rect x="569" y="558" width="3" height="1" fill="#c0c0c0"/>
<rect x="575" y="558" width="3" height="1" fill="#c0c0c0"/>
<rect x="581" y="558" width="3" height="1" fill="#c0c0c0"/>
<rect x="587" y="558" width="3" height="1" fill="#c0c0c0"/>
<rect x="593" y="558" width="3" height="1" fill="#c0c0c0"/>
<rect x="599" y="558" width="3" height="1" fill="#c0c0c0"/>
<rect x="605" y="558" width="3" height="1" fill="#c0c0c0"/>
<rect x="611" y="558" width="3" height="1" fill="#c0c0c0"/>
<rect x="617" y="558" width="3" height="1" fill="#c0c0c0"/>
<rect x="623" y="558" width="3" height="1" fill="#c0c0c0"/>
<rect x="629" y="558" width="3" height="1" fill="#c0c0c0"/>
<rect x="635" y="558" width="3" height="1" fill="#c0c0c0"/>
<rect x="641" y="558" width="3" height="1" fill="#c0c0c0"/>
<rect x="647" y="558" width="3" height="1" fill="#c0c0c0"/>
<rect x="653" y="558" width="3" height="1" fill="#c0c0c0"/>
<rect x="659" y="558" width="3" height="1" fill="#c0c0c0"/>
<rect x="665" y="558" width="3" height="1" fill="#c0c0c0"/>
<rect x="671" y="558" width="3" height="1" fill="#c0c0c0"/>
<rect x="677" y="558" width="3" height="1" fill="#c0c0c0"/>
<rect x="683" y="558" width="3" height="1" fill="#c0c0c0"/>
<rect x="689" y="558" width="3" height="1" fill="#c0c0c0"/>
<rect x="695" y="558" width="3" height="1" fill="#c0c0c0"/>
<rect x="701" y="558" width="3" height="1" fill="#c0c0c0"/>
<rect x="707" y="558" width="3" height="1" fill="#c0c0c0"/>
<rect x="713" y="558" width="3" height="1" fill="#c0c0c0"/>
<rect x="719" y="558" width="3" height="1" fill="#c0c0c0"/>
<rect x="725" y="558" width="3" height="1" fill="#c0c0c0"/>
<rect x="731" y="558" width="3" height="1" fill="#c0c0c0"/>
<rect x="737" y="558" width="3" height="1" fill="#c0c0c0"/>
<rect x="743" y="558" width="3" height="1" fill="#c0c0c0"/>
<rect x="749" y="558" width="3" height="1" fill="#c0c0c0"/>
<rect x="755" y="558" width="3" height="1" fill="#c0c0c0"/>
<rect x="761" y="558" width="3" height="1" fill="#c0c0c0"/>
<rect x="767" y="558" width="3" height="1" fill="#c0c0c0"/>
<rect x="773" y="558" width="3" height="1" fill="#c0c0c0"/>
<rect x="779" y="558" width="3" height="1" fill="#c0c0c0"/>
<rect x="785" y="558" width="3" height="1" fill="#c0c0c0"/>
<rect x="791" y="558" width="3" height="1" fill="#c0c0c0"/>
<rect x="797" y="558" width="3" height="1" fill="#c0c0c0"/>
<rect x="803" y="558" width="3" height="1" fill="#c0c0c0"/>
<rect x="809" y="558" width="3" height="1" fill="#c0c0c0"/>
<rect x="815" y="558" width="3" height="1" fill="#c0c0c0"/>
<rect x="821" y="558" width="3" height="1" fill="#c0c0c0"/>
<rect x="827" y="558" width="3" height="1" fill="#c0c0c0"/>
<rect x="833" y="558" width="3" height="1" fill="#c0c0c0"/>
<rect x="839" y="558" width="3" height="1" fill="#c0c0c0"/>
<rect x="845" y="558" width="3" height="1" fill="#c0c0c0"/>
<rect x="851" y="558" width="3" height="1" fill="#c0c0c0"/>
<rect x="857" y="558" width="3" height="1" fill="#c0c0c0"/>
<rect x="863" y="558" width="3" height="1" fill="#c0c0c0"/>
<rect x="869" y="558" width="3" height="1" fill="#c0c0c0"/>
<rect x="875" y="558" width="3" height="1" fill="#c0c0c0"/>
<rect x="881" y="558" width="3" height="1" fill="#c0c0c0"/>
<rect x="887" y="558" width="3" height="1" fill="#c0c0c0"/>
<rect x="893" y="558" width="3" height="1" fill="#c0c0c0"/>
<rect x="899" y="558" width="3" height="1" fill="#c0c0c0"/>
<rect x="905" y="558" width="3" height="1" fill="#c0c0c0"/>
<rect x="911" y="558" width="3" height="1" fill="#c0c0c0"/>
<rect x="917" y="558" width="3" height="1" fill="#c0c0c0"/>
<rect x="923" y="558" width="3" height="1" fill="#c0c0c0"/>
<rect x="929" y="558" width="3" height="1" fill="#c0c0c0"/>
<rect x="935" y="558" width="3" height="1" fill="#c0c0c0"/>
<rect x="941" y="558" width="3" height="1" fill="#c0c0c0"/>
<rect x="947" y="558" width="3" height="1" fill="#c0c0c0"/>
<rect x="953" y="558" width="3" height="1" fill="#c0c0c0"/>
<rect x="959" y="558" width="3" height="1" fill="#c0c0c0"/>
<rect x="965" y="558" width="3" height="1" fill="#c0c0c0"/>
<rect x="971" y="558" width="3" height="1" fill="#c0c0c0"/>
<rect x="977" y="558" width="3" height="1" fill="#c0c0c0"/>
<rect x="983" y="558" width="3" height="1" fill="#c0c0c0"/>
<rect x="989" y="558" width="3" height="1" fill="#c0c0c0"/>
<rect x="995" y="558" width="3" height="1" fill="#c0c0c0"/>
<rect x="1001" y="558" width="3" height="1" fill="#c0c0c0"/>
<rect x="1007" y="558" width="3" height="1" fill="#c0c0c0"/>
<rect x="1013" y="558" width="3" height="1" fill="#c0c0c0"/>
<rect x="1019" y="558" width="3" height="1" fill="#c0c0c0"/>
<rect x="1025" y="558" width="3" height="1" fill="#c0c0c0"/>
<rect x="1031" y="558" width="3" height="1" fill="#c0c0c0"/>
<rect x="1037" y="558" width="3" height="1" fill="#c0c0c0"/>
<rect x="1043" y="558" width="3" height="1" fill="#c0c0c0"/>
<rect x="1049" y="558" width="3" height="1" fill="#c0c0c0"/>
<rect x="1055" y="558" width="3" height="1" fill="#c0c0c0"/>
<rect x="1061" y="558" width="3" height="1" fill="#c0c0c0"/>
<rect x="1067" y="558" width="3" height="1" fill="#c0c0c0"/>
<rect x="1073" y="558" width="3" height="1" fill="#c0c0c0"/>
<rect x="1079" y="558" width="3" height="1" fill="#c0c0c0"/>
<rect x="1085" y="558" width="3" height="1" fill="#c0c0c0"/>
<rect x="1091" y="558" width="3" height="1" fill="#c0c0c0"/>
<rect x="1097" y="558" width="3" height="1" fill="#c0c0c0"/>
<rect x="1103" y="558" width="3" height="1" fill="#c0c0c0"/>
<rect x="1109" y="558" width="3" height="1" fill="#c0c0c0"/>
<rect x="1115" y="558" width="3" height="1" fill="#c0c0c0"/>
<rect x="1121" y="558" width="3" height="1" fill="#c0c0c0"/>
<rect x="1127" y="558" width="3" height="1" fill="#c0c0c0"/>
<rect x="1133" y="558" width="3" height="1" fill="#c0c0c0"/>
<rect x="1139" y="558" width="3" height="1" fill="#c0c0c0"/>
<rect x="1145" y="558" width="3" height="1" fill="#c0c0c0"/>
<rect x="1151" y="558" width="3" height="1" fill="#c0c0c0"/>
<rect x="1157" y="558" width="3" height="1" fill="#c0c0c0"/>
<rect x="1163" y="558" width="3" height="1" fill="#c0c0c0"/>

<rect x="8" y="51" width="50" height="22" fill="url(#gtop)"/>
<rect x="175" y="51" width="50" height="22" fill="url(#gtop)"/>
<rect x="8" y="75" width="107" height="38" fill="url(#gbot)"/>
<rect x="119" y="75" width="106" height="38" fill="url(#gbot)"/>

<rect x="7" y="50" width="52" height="1" fill="#a80000"/>
<rect x="7" y="50" width="1" height="64" fill="#a80000"/>
<rect x="58" y="50" width="1" height="25" fill="#a80000"/>
<rect x="58" y="74" width="58" height="1" fill="#a80000"/>
<rect x="115" y="74" width="1" height="40" fill="#a80000"/>
<rect x="7" y="113" width="109" height="1" fill="#a80000"/>
<rect x="8" y="73" width="50" height="2" fill="#e03a3a"/>
<rect x="11" y="73" width="44" height="1" fill="#9a0000"/>
<rect x="11" y="74" width="44" height="1" fill="#f47474"/>
<rect x="174" y="50" width="52" height="1" fill="#a80000"/>
<rect x="225" y="50" width="1" height="64" fill="#a80000"/>
<rect x="174" y="50" width="1" height="25" fill="#a80000"/>
<rect x="118" y="74" width="57" height="1" fill="#a80000"/>
<rect x="118" y="74" width="1" height="40" fill="#a80000"/>
<rect x="118" y="113" width="108" height="1" fill="#a80000"/>
<rect x="175" y="73" width="50" height="2" fill="#e03a3a"/>
<rect x="178" y="73" width="44" height="1" fill="#9a0000"/>
<rect x="178" y="74" width="44" height="1" fill="#f47474"/>
<rect x="61" y="50" width="111" height="1" fill="#a9adb2"/>
<rect x="61" y="71" width="111" height="1" fill="#a9adb2"/>
<rect x="61" y="50" width="1" height="22" fill="#a9adb2"/>
<rect x="171" y="50" width="1" height="22" fill="#a9adb2"/>
<rect x="62" y="51" width="109" height="20" fill="#ffffff"/>
<rect x="82" y="51" width="1" height="20" fill="#a9adb2"/>
<rect x="151" y="51" width="1" height="20" fill="#a9adb2"/>
<rect x="63" y="52" width="18" height="6" fill="url(#gbtn1)"/><rect x="63" y="58" width="18" height="12" fill="url(#gbtn)"/>
<rect x="152" y="52" width="18" height="6" fill="url(#gbtn1)"/><rect x="152" y="58" width="18" height="12" fill="url(#gbtn)"/>
<rect x="69" y="59" width="5" height="1" fill="#6874d0"/>
<rect x="70" y="60" width="3" height="1" fill="#4c5cbc"/>
<rect x="71" y="61" width="1" height="1" fill="#38448c"/>
<rect x="160" y="59" width="1" height="1" fill="#6874d0"/>
<rect x="159" y="60" width="3" height="1" fill="#5a68c8"/>
<rect x="158" y="61" width="5" height="1" fill="#5060c4"/>
<rect x="10" y="37" width="1" height="1" fill="#000"/>
<rect x="9" y="38" width="3" height="1" fill="#000"/>
<rect x="8" y="39" width="5" height="1" fill="#000"/>
<rect x="7" y="40" width="7" height="1" fill="#000"/>
<rect x="1168" y="200" width="41" height="11" fill="#000"/>
<rect x="0" y="606" width="1214" height="1" fill="#000"/>
<rect x="1" y="607" width="1211" height="1" fill="#ffffff"/>
<rect x="0" y="607" width="1" height="18" fill="#696969"/>
<rect x="1212" y="607" width="1" height="19" fill="#dcdcdc"/>
<rect x="97" y="606" width="92" height="19" fill="#000"/>
<rect x="98" y="606" width="90" height="18" fill="#ffffff"/>
<rect x="98" y="625" width="92" height="1" fill="#c8c8c8"/>
<rect x="189" y="607" width="1" height="19" fill="#c8c8c8"/>
<rect x="289" y="610" width="1" height="13" fill="#6a6a6a"/>
<rect x="393" y="610" width="1" height="13" fill="#6a6a6a"/>
<rect x="497" y="610" width="1" height="13" fill="#6a6a6a"/>
<rect x="593" y="610" width="1" height="13" fill="#6a6a6a"/>
<rect x="685" y="610" width="1" height="13" fill="#6a6a6a"/>
<rect x="777" y="610" width="1" height="13" fill="#6a6a6a"/>
<rect x="865" y="610" width="1" height="13" fill="#6a6a6a"/>
<rect x="969" y="610" width="1" height="13" fill="#6a6a6a"/>
<rect x="1037" y="610" width="1" height="13" fill="#6a6a6a"/>
<rect x="1129" y="610" width="1" height="13" fill="#6a6a6a"/>
<rect x="1" y="626" width="1213" height="1" fill="#ffffff"/>
<rect x="0" y="629" width="1214" height="1" fill="#fafafa"/>
<rect x="0" y="630" width="1212" height="1" fill="#a0a0a0"/>
<rect x="0" y="631" width="1214" height="2" fill="#ffffff"/>
<rect x="2" y="632" width="1" height="1" fill="#dcdcdc"/>
<rect x="110" y="632" width="1" height="1" fill="#dcdcdc"/>
<rect x="194" y="632" width="1" height="1" fill="#dcdcdc"/>
<rect x="302" y="632" width="1" height="1" fill="#dcdcdc"/>
<rect x="422" y="632" width="1" height="1" fill="#dcdcdc"/>
<rect x="542" y="632" width="1" height="1" fill="#dcdcdc"/>
<rect x="662" y="632" width="1" height="1" fill="#dcdcdc"/>
<rect x="782" y="632" width="1" height="1" fill="#dcdcdc"/>
<rect x="902" y="632" width="1" height="1" fill="#dcdcdc"/>
<rect x="1022" y="632" width="1" height="1" fill="#dcdcdc"/>
<rect x="1184" y="612" width="1" height="6" fill="#8a8a8a"/>
<rect x="1183" y="613" width="1" height="4" fill="#8a8a8a"/>
<rect x="1182" y="614" width="1" height="2" fill="#8a8a8a"/>
<rect x="1201" y="612" width="1" height="6" fill="#000"/>
<rect x="1202" y="613" width="1" height="4" fill="#000"/>
<rect x="1203" y="614" width="1" height="2" fill="#000"/>
<g text-rendering="auto">
<text x="0.00" y="18" font-family="DejaVu Sans, sans-serif" font-size="9.5" fill="#444444" textLength="6.05" lengthAdjust="spacingAndGlyphs">5</text>
<text x="15.05" y="18" font-family="DejaVu Sans, sans-serif" font-size="9.5" fill="#444444" textLength="19.23" lengthAdjust="spacingAndGlyphs">M30</text>
<text x="45.91" y="18" font-family="DejaVu Sans, sans-serif" font-size="9.5" fill="#444444" textLength="14.40" lengthAdjust="spacingAndGlyphs">H1</text>
<text x="72.91" y="18" font-family="DejaVu Sans, sans-serif" font-size="9.5" fill="#444444" textLength="14.40" lengthAdjust="spacingAndGlyphs">H4</text>
<text x="101.91" y="18" font-family="DejaVu Sans, sans-serif" font-size="9.5" fill="#444444" textLength="14.57" lengthAdjust="spacingAndGlyphs">D1</text>
<text x="130.00" y="18" font-family="DejaVu Sans, sans-serif" font-size="9.5" fill="#444444" textLength="15.44" lengthAdjust="spacingAndGlyphs">W1</text>
<text x="155.93" y="18" font-family="DejaVu Sans, sans-serif" font-size="9.5" fill="#444444" textLength="16.41" lengthAdjust="spacingAndGlyphs">MN</text>
<text x="21.00" y="42" font-family="DejaVu Sans, sans-serif" font-size="9.5" stroke="#000" stroke-width="0.18" fill="#000" textLength="54.21" lengthAdjust="spacingAndGlyphs">AUDUSD,H4</text>
<text x="81.15" y="42" font-family="DejaVu Sans, sans-serif" font-size="9.5" stroke="#000" stroke-width="0.18" fill="#000" textLength="140.87" lengthAdjust="spacingAndGlyphs">0.71028 0.71036 0.70921 0.70979</text>
<text x="1172.16" y="64" font-family="DejaVu Sans, sans-serif" font-size="9.5" stroke="#000" stroke-width="0.18" fill="#000" textLength="32.92" lengthAdjust="spacingAndGlyphs">0.71630</text>
<text x="1172.16" y="97" font-family="DejaVu Sans, sans-serif" font-size="9.5" stroke="#000" stroke-width="0.18" fill="#000" textLength="32.92" lengthAdjust="spacingAndGlyphs">0.71485</text>
<text x="1172.16" y="130" font-family="DejaVu Sans, sans-serif" font-size="9.5" stroke="#000" stroke-width="0.18" fill="#000" textLength="32.92" lengthAdjust="spacingAndGlyphs">0.71335</text>
<text x="1172.16" y="163" font-family="DejaVu Sans, sans-serif" font-size="9.5" stroke="#000" stroke-width="0.18" fill="#000" textLength="32.92" lengthAdjust="spacingAndGlyphs">0.71185</text>
<text x="1172.16" y="196" font-family="DejaVu Sans, sans-serif" font-size="9.5" stroke="#000" stroke-width="0.18" fill="#000" textLength="32.92" lengthAdjust="spacingAndGlyphs">0.71035</text>
<text x="1172.16" y="229" font-family="DejaVu Sans, sans-serif" font-size="9.5" stroke="#000" stroke-width="0.18" fill="#000" textLength="32.92" lengthAdjust="spacingAndGlyphs">0.70890</text>
<text x="1172.16" y="262" font-family="DejaVu Sans, sans-serif" font-size="9.5" stroke="#000" stroke-width="0.18" fill="#000" textLength="32.92" lengthAdjust="spacingAndGlyphs">0.70740</text>
<text x="1172.16" y="295" font-family="DejaVu Sans, sans-serif" font-size="9.5" stroke="#000" stroke-width="0.18" fill="#000" textLength="32.92" lengthAdjust="spacingAndGlyphs">0.70590</text>
<text x="1172.16" y="328" font-family="DejaVu Sans, sans-serif" font-size="9.5" stroke="#000" stroke-width="0.18" fill="#000" textLength="32.92" lengthAdjust="spacingAndGlyphs">0.70440</text>
<text x="1172.16" y="361" font-family="DejaVu Sans, sans-serif" font-size="9.5" stroke="#000" stroke-width="0.18" fill="#000" textLength="32.92" lengthAdjust="spacingAndGlyphs">0.70290</text>
<text x="1172.16" y="395" font-family="DejaVu Sans, sans-serif" font-size="9.5" stroke="#000" stroke-width="0.18" fill="#000" textLength="32.92" lengthAdjust="spacingAndGlyphs">0.70140</text>
<text x="1172.16" y="428" font-family="DejaVu Sans, sans-serif" font-size="9.5" stroke="#000" stroke-width="0.18" fill="#000" textLength="32.92" lengthAdjust="spacingAndGlyphs">0.69990</text>
<text x="1172.16" y="209" font-family="DejaVu Sans, sans-serif" font-size="9.5" stroke="#ffffff" stroke-width="0.18" fill="#ffffff" textLength="32.92" lengthAdjust="spacingAndGlyphs">0.70979</text>
<text x="8.13" y="442" font-family="DejaVu Sans, sans-serif" font-size="9.5" stroke="#000" stroke-width="0.18" fill="#000" textLength="153.50" lengthAdjust="spacingAndGlyphs">MACD(12,26,9) -0.000276 -0.000563</text>
<text x="1170.16" y="440" font-family="DejaVu Sans, sans-serif" font-size="9.5" stroke="#000" stroke-width="0.18" fill="#000" textLength="37.96" lengthAdjust="spacingAndGlyphs">0.001615</text>
<text x="1170.16" y="461" font-family="DejaVu Sans, sans-serif" font-size="9.5" stroke="#000" stroke-width="0.18" fill="#000" textLength="17.82" lengthAdjust="spacingAndGlyphs">0.00</text>
<text x="1170.17" y="494" font-family="DejaVu Sans, sans-serif" font-size="9.5" stroke="#000" stroke-width="0.18" fill="#000" textLength="40.47" lengthAdjust="spacingAndGlyphs">-0.002443</text>
<text x="8.12" y="512" font-family="DejaVu Sans, sans-serif" font-size="9.5" stroke="#000" stroke-width="0.18" fill="#000" textLength="67.98" lengthAdjust="spacingAndGlyphs">RSI(14) 51.3169</text>
<text x="1170.19" y="510" font-family="DejaVu Sans, sans-serif" font-size="9.5" stroke="#000" stroke-width="0.18" fill="#000" textLength="14.74" lengthAdjust="spacingAndGlyphs">100</text>
<text x="1170.30" y="529" font-family="DejaVu Sans, sans-serif" font-size="9.5" stroke="#000" stroke-width="0.18" fill="#000" textLength="8.47" lengthAdjust="spacingAndGlyphs">70</text>
<text x="1170.30" y="562" font-family="DejaVu Sans, sans-serif" font-size="9.5" stroke="#000" stroke-width="0.18" fill="#000" textLength="8.47" lengthAdjust="spacingAndGlyphs">30</text>
<text x="1170.00" y="580" font-family="DejaVu Sans, sans-serif" font-size="9.5" stroke="#000" stroke-width="0.18" fill="#000" textLength="6.05" lengthAdjust="spacingAndGlyphs">0</text>
<text x="4.15" y="596" font-family="DejaVu Sans, sans-serif" font-size="9.5" stroke="#000" stroke-width="0.18" fill="#000" textLength="45.85" lengthAdjust="spacingAndGlyphs">5 Mar 2019</text>
<text x="68.15" y="596" font-family="DejaVu Sans, sans-serif" font-size="9.5" stroke="#000" stroke-width="0.18" fill="#000" textLength="49.04" lengthAdjust="spacingAndGlyphs">6 Mar 11:00</text>
<text x="132.15" y="596" font-family="DejaVu Sans, sans-serif" font-size="9.5" stroke="#000" stroke-width="0.18" fill="#000" textLength="48.80" lengthAdjust="spacingAndGlyphs">7 Mar 19:00</text>
<text x="196.15" y="596" font-family="DejaVu Sans, sans-serif" font-size="9.5" stroke="#000" stroke-width="0.18" fill="#000" textLength="48.80" lengthAdjust="spacingAndGlyphs">9 Mar 00:00</text>
<text x="260.15" y="596" font-family="DejaVu Sans, sans-serif" font-size="9.5" stroke="#000" stroke-width="0.18" fill="#000" textLength="53.94" lengthAdjust="spacingAndGlyphs">12 Mar 10:00</text>
<text x="324.15" y="596" font-family="DejaVu Sans, sans-serif" font-size="9.5" stroke="#000" stroke-width="0.18" fill="#000" textLength="53.94" lengthAdjust="spacingAndGlyphs">13 Mar 18:00</text>
<text x="388.15" y="596" font-family="DejaVu Sans, sans-serif" font-size="9.5" stroke="#000" stroke-width="0.18" fill="#000" textLength="53.94" lengthAdjust="spacingAndGlyphs">15 Mar 00:00</text>
<text x="452.15" y="596" font-family="DejaVu Sans, sans-serif" font-size="9.5" stroke="#000" stroke-width="0.18" fill="#000" textLength="53.94" lengthAdjust="spacingAndGlyphs">18 Mar 11:00</text>
<text x="516.15" y="596" font-family="DejaVu Sans, sans-serif" font-size="9.5" stroke="#000" stroke-width="0.18" fill="#000" textLength="53.94" lengthAdjust="spacingAndGlyphs">19 Mar 18:00</text>
<text x="580.15" y="596" font-family="DejaVu Sans, sans-serif" font-size="9.5" stroke="#000" stroke-width="0.18" fill="#000" textLength="53.94" lengthAdjust="spacingAndGlyphs">21 Mar 00:00</text>
<text x="644.15" y="596" font-family="DejaVu Sans, sans-serif" font-size="9.5" stroke="#000" stroke-width="0.18" fill="#000" textLength="53.94" lengthAdjust="spacingAndGlyphs">22 Mar 10:00</text>
<text x="708.15" y="596" font-family="DejaVu Sans, sans-serif" font-size="9.5" stroke="#000" stroke-width="0.18" fill="#000" textLength="53.94" lengthAdjust="spacingAndGlyphs">25 Mar 19:00</text>
<text x="772.15" y="596" font-family="DejaVu Sans, sans-serif" font-size="9.5" stroke="#000" stroke-width="0.18" fill="#000" textLength="53.94" lengthAdjust="spacingAndGlyphs">27 Mar 00:00</text>
<text x="836.15" y="596" font-family="DejaVu Sans, sans-serif" font-size="9.5" stroke="#000" stroke-width="0.18" fill="#000" textLength="53.94" lengthAdjust="spacingAndGlyphs">28 Mar 10:00</text>
<text x="900.15" y="596" font-family="DejaVu Sans, sans-serif" font-size="9.5" stroke="#000" stroke-width="0.18" fill="#000" textLength="53.94" lengthAdjust="spacingAndGlyphs">29 Mar 18:00</text>
<text x="16.04" y="621" font-family="Liberation Sans, sans-serif" font-size="12.5" fill="#6d6d6d" textLength="69.20" lengthAdjust="spacingAndGlyphs">EURUSD,H4</text>
<text x="108.00" y="621" font-family="Liberation Sans, sans-serif" font-size="12.5" fill="#000" textLength="70.24" lengthAdjust="spacingAndGlyphs">AUDUSD,H4</text>
<text x="198.02" y="621" font-family="Liberation Sans, sans-serif" font-size="12.5" fill="#6d6d6d" textLength="79.93" lengthAdjust="spacingAndGlyphs">USDCHF,Daily</text>
<text x="300.04" y="621" font-family="Liberation Sans, sans-serif" font-size="12.5" fill="#6d6d6d" textLength="81.01" lengthAdjust="spacingAndGlyphs">USDCAD,Daily</text>
<text x="402.01" y="621" font-family="Liberation Sans, sans-serif" font-size="12.5" fill="#6d6d6d" textLength="83.73" lengthAdjust="spacingAndGlyphs">USDCNH,Daily</text>
<text x="507.05" y="621" font-family="Liberation Sans, sans-serif" font-size="12.5" fill="#6d6d6d" textLength="74.92" lengthAdjust="spacingAndGlyphs">USDJPY,Daily</text>
<text x="604.00" y="621" font-family="Liberation Sans, sans-serif" font-size="12.5" fill="#6d6d6d" textLength="69.53" lengthAdjust="spacingAndGlyphs">XAUUSD,H1</text>
<text x="697.06" y="621" font-family="Liberation Sans, sans-serif" font-size="12.5" fill="#6d6d6d" textLength="68.18" lengthAdjust="spacingAndGlyphs">GBPUSD,H4</text>
<text x="788.02" y="621" font-family="Liberation Sans, sans-serif" font-size="12.5" fill="#6d6d6d" textLength="64.31" lengthAdjust="spacingAndGlyphs">SP500,M15</text>
<text x="876.04" y="621" font-family="Liberation Sans, sans-serif" font-size="12.5" fill="#6d6d6d" textLength="81.01" lengthAdjust="spacingAndGlyphs">GBPUSD,Daily</text>
<text x="979.02" y="621" font-family="Liberation Sans, sans-serif" font-size="12.5" fill="#6d6d6d" textLength="47.61" lengthAdjust="spacingAndGlyphs">DJ30,H4</text>
<text x="1047.00" y="621" font-family="Liberation Sans, sans-serif" font-size="12.5" fill="#6d6d6d" textLength="71.33" lengthAdjust="spacingAndGlyphs">TECH100,H1</text>
<text x="1140.97" y="621" font-family="Liberation Sans, sans-serif" font-size="12.5" fill="#6d6d6d" textLength="37.19" lengthAdjust="spacingAndGlyphs">UKOil,</text>
<text x="18.10" y="66" font-family="Liberation Sans, sans-serif" font-size="12.5" fill="#ffecec" textLength="27.43" lengthAdjust="spacingAndGlyphs">SELL</text>
<text x="187.04" y="66" font-family="Liberation Sans, sans-serif" font-size="12.5" fill="#ffecec" textLength="24.63" lengthAdjust="spacingAndGlyphs">BUY</text>
<text x="123.00" y="65" font-family="Liberation Sans, sans-serif" font-size="12.5" fill="#000" textLength="24.34" lengthAdjust="spacingAndGlyphs">5.00</text>
<text x="27.00" y="105" font-family="Liberation Sans, sans-serif" font-size="12.5" font-weight="bold" fill="#fff" textLength="24.34" lengthAdjust="spacingAndGlyphs">0.70</text>
<text x="52.17" y="105" font-family="DejaVu Sans, sans-serif" font-size="32.6" font-weight="200" stroke="#fff" stroke-width="0.9" fill="#fff" textLength="39.10" lengthAdjust="spacingAndGlyphs">97</text>
<text x="94.00" y="89" font-family="Liberation Sans, sans-serif" font-size="12.5" font-weight="bold" fill="#fff" textLength="6.95" lengthAdjust="spacingAndGlyphs">9</text>
<text x="137.00" y="105" font-family="Liberation Sans, sans-serif" font-size="12.5" font-weight="bold" fill="#fff" textLength="24.34" lengthAdjust="spacingAndGlyphs">0.70</text>
<text x="163.17" y="105" font-family="DejaVu Sans, sans-serif" font-size="32.6" font-weight="200" stroke="#fff" stroke-width="0.9" fill="#fff" textLength="39.16" lengthAdjust="spacingAndGlyphs">99</text>
<text x="205.00" y="89" font-family="Liberation Sans, sans-serif" font-size="12.5" font-weight="bold" fill="#fff" textLength="6.95" lengthAdjust="spacingAndGlyphs">8</text>
</g>
</svg>
</body></html>
